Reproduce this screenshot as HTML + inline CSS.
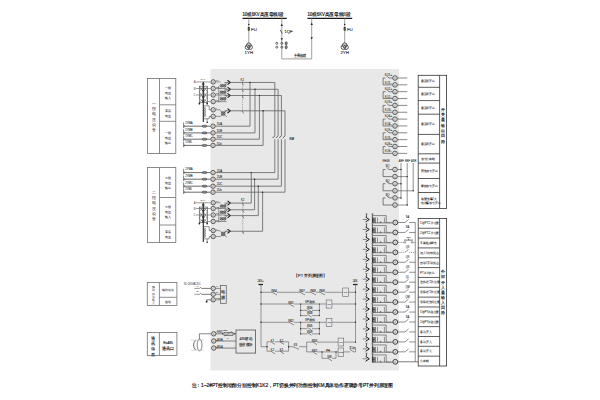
<!DOCTYPE html>
<html><head><meta charset="utf-8"><style>
html,body{margin:0;padding:0;background:#fff;width:600px;height:400px;overflow:hidden}
svg{display:block}
text{font-family:"Liberation Sans",sans-serif}
</style></head><body>
<svg width="600" height="400" viewBox="0 0 600 400">
<rect x="210.50" y="69.00" width="188.50" height="301.50" stroke="#333" stroke-width="0" fill="#e8e8e8"/>
<line x1="242.50" y1="18.40" x2="286.80" y2="18.40" stroke="#1a1a1a" stroke-width="1.4" />
<text x="242.50" y="16.30" font-size="4.6" fill="#1a1a1a" stroke="#1a1a1a" stroke-width="0.18" text-anchor="start" textLength="41.0" lengthAdjust="spacingAndGlyphs">10或6KV高压母线I段</text>
<line x1="307.40" y1="18.40" x2="352.20" y2="18.40" stroke="#1a1a1a" stroke-width="1.4" />
<text x="307.40" y="16.30" font-size="4.6" fill="#1a1a1a" stroke="#1a1a1a" stroke-width="0.18" text-anchor="start" textLength="43.0" lengthAdjust="spacingAndGlyphs">10或6KV高压母线II段</text>
<line x1="248.80" y1="18.40" x2="248.80" y2="43.50" stroke="#888" stroke-width="0.8" />
<circle cx="248.80" cy="24.60" r="0.75" fill="#222"/>
<rect x="248.05" y="27.30" width="1.50" height="3.40" stroke="#222" stroke-width="0.5" fill="#666"/>
<text x="251.00" y="31.00" font-size="4.4" fill="#1a1a1a" stroke="#1a1a1a" stroke-width="0.08" text-anchor="start" >FU</text>
<circle cx="247.50" cy="47.20" r="2.30" stroke="#333" stroke-width="0.8" fill="none"/>
<circle cx="250.10" cy="47.20" r="2.30" stroke="#333" stroke-width="0.8" fill="none"/>
<circle cx="248.80" cy="45.20" r="2.30" stroke="#333" stroke-width="0.8" fill="none"/>
<text x="248.80" y="53.80" font-size="4.4" fill="#1a1a1a" stroke="#1a1a1a" stroke-width="0.1" text-anchor="middle" >1YH</text>
<line x1="344.70" y1="18.40" x2="344.70" y2="43.50" stroke="#888" stroke-width="0.8" />
<circle cx="344.70" cy="24.60" r="0.75" fill="#222"/>
<rect x="343.95" y="27.30" width="1.50" height="3.40" stroke="#222" stroke-width="0.5" fill="#666"/>
<text x="346.90" y="31.00" font-size="4.4" fill="#1a1a1a" stroke="#1a1a1a" stroke-width="0.08" text-anchor="start" >FU</text>
<circle cx="343.40" cy="47.20" r="2.30" stroke="#333" stroke-width="0.8" fill="none"/>
<circle cx="346.00" cy="47.20" r="2.30" stroke="#333" stroke-width="0.8" fill="none"/>
<circle cx="344.70" cy="45.20" r="2.30" stroke="#333" stroke-width="0.8" fill="none"/>
<text x="344.70" y="53.80" font-size="4.4" fill="#1a1a1a" stroke="#1a1a1a" stroke-width="0.1" text-anchor="middle" >2YH</text>
<line x1="281.80" y1="18.40" x2="281.80" y2="58.90" stroke="#888" stroke-width="0.8" />
<polygon points="280.7,26 282.90000000000003,26 281.8,23.6" fill="#222"/>
<line x1="280.20" y1="29.80" x2="282.30" y2="33.60" stroke="#222" stroke-width="0.7" />
<polygon points="280.7,38.2 282.90000000000003,38.2 281.8,40.6" fill="#222"/>
<text x="284.20" y="33.30" font-size="4.4" fill="#1a1a1a" stroke="#1a1a1a" stroke-width="0.1" text-anchor="start" >1QF</text>
<circle cx="276.80" cy="43.30" r="1.00" stroke="#333" stroke-width="0.7" fill="none"/>
<circle cx="276.80" cy="47.20" r="1.00" stroke="#333" stroke-width="0.7" fill="none"/>
<circle cx="281.80" cy="43.30" r="1.00" stroke="#333" stroke-width="0.7" fill="none"/>
<circle cx="281.80" cy="47.20" r="1.00" stroke="#333" stroke-width="0.7" fill="none"/>
<ellipse cx="286.2" cy="43.3" rx="1" ry="1.6" stroke="#333" stroke-width="0.7" fill="#999"/>
<ellipse cx="286.2" cy="47.2" rx="1" ry="1.6" stroke="#333" stroke-width="0.7" fill="#999"/>
<line x1="281.80" y1="58.90" x2="311.70" y2="58.90" stroke="#888" stroke-width="0.8" />
<line x1="311.70" y1="18.40" x2="311.70" y2="58.90" stroke="#888" stroke-width="0.8" />
<polygon points="310.6,25 312.8,25 311.7,22.6" fill="#222"/>
<polygon points="310.6,37.2 312.8,37.2 311.7,39.6" fill="#222"/>
<text x="293.50" y="57.40" font-size="3.8" fill="#1a1a1a" stroke="#1a1a1a" stroke-width="0.12" text-anchor="start" textLength="12.5" lengthAdjust="spacingAndGlyphs">主母线联</text>
<rect x="147.50" y="78.50" width="28.30" height="75.00" stroke="#707070" stroke-width="0.8" fill="none"/>
<line x1="159.50" y1="78.50" x2="159.50" y2="153.50" stroke="#707070" stroke-width="0.8" />
<line x1="159.50" y1="104.80" x2="175.80" y2="104.80" stroke="#707070" stroke-width="0.8" />
<line x1="159.50" y1="121.30" x2="175.80" y2="121.30" stroke="#707070" stroke-width="0.8" />
<text x="153.50" y="104.80" font-size="3.6" fill="#222"  text-anchor="middle" >一</text>
<text x="153.50" y="110.10" font-size="3.6" fill="#222"  text-anchor="middle" >段</text>
<text x="153.50" y="115.40" font-size="3.6" fill="#222"  text-anchor="middle" >电</text>
<text x="153.50" y="120.70" font-size="3.6" fill="#222"  text-anchor="middle" >压</text>
<text x="153.50" y="126.00" font-size="3.6" fill="#222"  text-anchor="middle" >设</text>
<text x="153.50" y="131.30" font-size="3.6" fill="#222"  text-anchor="middle" >备</text>
<text x="167.70" y="88.85" font-size="3.2" fill="#1a1a1a" stroke="#1a1a1a" stroke-width="0.04" text-anchor="middle" >一段</text>
<text x="167.70" y="93.70" font-size="3.2" fill="#1a1a1a" stroke="#1a1a1a" stroke-width="0.04" text-anchor="middle" >电压</text>
<text x="167.70" y="98.55" font-size="3.2" fill="#1a1a1a" stroke="#1a1a1a" stroke-width="0.04" text-anchor="middle" >输入</text>
<text x="167.70" y="111.78" font-size="3.2" fill="#1a1a1a" stroke="#1a1a1a" stroke-width="0.04" text-anchor="middle" >零序</text>
<text x="167.70" y="116.62" font-size="3.2" fill="#1a1a1a" stroke="#1a1a1a" stroke-width="0.04" text-anchor="middle" >电压</text>
<text x="167.70" y="133.85" font-size="3.2" fill="#1a1a1a" stroke="#1a1a1a" stroke-width="0.04" text-anchor="middle" >一段</text>
<text x="167.70" y="138.70" font-size="3.2" fill="#1a1a1a" stroke="#1a1a1a" stroke-width="0.04" text-anchor="middle" >电压</text>
<text x="167.70" y="143.55" font-size="3.2" fill="#1a1a1a" stroke="#1a1a1a" stroke-width="0.04" text-anchor="middle" >输出</text>
<rect x="147.50" y="167.50" width="28.30" height="75.00" stroke="#707070" stroke-width="0.8" fill="none"/>
<line x1="159.50" y1="167.50" x2="159.50" y2="242.50" stroke="#707070" stroke-width="0.8" />
<line x1="159.50" y1="197.50" x2="175.80" y2="197.50" stroke="#707070" stroke-width="0.8" />
<line x1="159.50" y1="225.00" x2="175.80" y2="225.00" stroke="#707070" stroke-width="0.8" />
<text x="153.50" y="193.80" font-size="3.6" fill="#222"  text-anchor="middle" >二</text>
<text x="153.50" y="199.10" font-size="3.6" fill="#222"  text-anchor="middle" >段</text>
<text x="153.50" y="204.40" font-size="3.6" fill="#222"  text-anchor="middle" >电</text>
<text x="153.50" y="209.70" font-size="3.6" fill="#222"  text-anchor="middle" >压</text>
<text x="153.50" y="215.00" font-size="3.6" fill="#222"  text-anchor="middle" >设</text>
<text x="153.50" y="220.30" font-size="3.6" fill="#222"  text-anchor="middle" >备</text>
<text x="167.70" y="178.85" font-size="3.2" fill="#1a1a1a" stroke="#1a1a1a" stroke-width="0.04" text-anchor="middle" >二段</text>
<text x="167.70" y="183.70" font-size="3.2" fill="#1a1a1a" stroke="#1a1a1a" stroke-width="0.04" text-anchor="middle" >电压</text>
<text x="167.70" y="188.55" font-size="3.2" fill="#1a1a1a" stroke="#1a1a1a" stroke-width="0.04" text-anchor="middle" >输出</text>
<text x="167.70" y="207.85" font-size="3.2" fill="#1a1a1a" stroke="#1a1a1a" stroke-width="0.04" text-anchor="middle" >二段</text>
<text x="167.70" y="212.70" font-size="3.2" fill="#1a1a1a" stroke="#1a1a1a" stroke-width="0.04" text-anchor="middle" >电压</text>
<text x="167.70" y="217.55" font-size="3.2" fill="#1a1a1a" stroke="#1a1a1a" stroke-width="0.04" text-anchor="middle" >输入</text>
<text x="167.70" y="232.77" font-size="3.2" fill="#1a1a1a" stroke="#1a1a1a" stroke-width="0.04" text-anchor="middle" >零序</text>
<text x="167.70" y="237.62" font-size="3.2" fill="#1a1a1a" stroke="#1a1a1a" stroke-width="0.04" text-anchor="middle" >电压</text>
<rect x="147.30" y="282.50" width="29.60" height="22.90" stroke="#707070" stroke-width="0.8" fill="none"/>
<line x1="159.40" y1="282.50" x2="159.40" y2="305.40" stroke="#707070" stroke-width="0.8" />
<line x1="159.40" y1="297.30" x2="176.90" y2="297.30" stroke="#707070" stroke-width="0.8" />
<text x="153.30" y="288.30" font-size="2.8" fill="#444"  text-anchor="middle" >辅</text>
<text x="153.30" y="291.40" font-size="2.8" fill="#444"  text-anchor="middle" >助</text>
<text x="153.30" y="294.50" font-size="2.8" fill="#444"  text-anchor="middle" >电</text>
<text x="153.30" y="297.60" font-size="2.8" fill="#444"  text-anchor="middle" >源</text>
<text x="153.30" y="300.70" font-size="2.8" fill="#444"  text-anchor="middle" >输</text>
<text x="153.30" y="303.80" font-size="2.8" fill="#444"  text-anchor="middle" >入</text>
<text x="168.10" y="291.40" font-size="3.2" fill="#333" stroke="#333" stroke-width="0.02" text-anchor="middle" >辅助电源</text>
<text x="168.10" y="302.50" font-size="3.2" fill="#333" stroke="#333" stroke-width="0.02" text-anchor="middle" >接地</text>
<rect x="147.30" y="332.50" width="29.60" height="22.90" stroke="#707070" stroke-width="0.8" fill="none"/>
<line x1="159.40" y1="332.50" x2="159.40" y2="355.40" stroke="#707070" stroke-width="0.8" />
<text x="153.30" y="339.80" font-size="4.2" fill="#1a1a1a" stroke="#1a1a1a" stroke-width="0.1" text-anchor="middle" >通</text>
<text x="153.30" y="345.10" font-size="4.2" fill="#1a1a1a" stroke="#1a1a1a" stroke-width="0.1" text-anchor="middle" >讯</text>
<text x="153.30" y="350.40" font-size="4.2" fill="#1a1a1a" stroke="#1a1a1a" stroke-width="0.1" text-anchor="middle" >信</text>
<text x="153.30" y="355.70" font-size="4.2" fill="#1a1a1a" stroke="#1a1a1a" stroke-width="0.1" text-anchor="middle" >息</text>
<text x="168.10" y="343.80" font-size="3.2" fill="#1a1a1a" stroke="#1a1a1a" stroke-width="0.12" text-anchor="middle" >RsA85</text>
<text x="168.10" y="349.50" font-size="4.0" fill="#1a1a1a" stroke="#1a1a1a" stroke-width="0.12" text-anchor="middle" >通讯口</text>
<rect x="418.20" y="75.30" width="28.40" height="133.20" stroke="#333" stroke-width="0.8" fill="none"/>
<line x1="439.60" y1="75.30" x2="439.60" y2="208.50" stroke="#333" stroke-width="0.8" />
<line x1="418.20" y1="87.30" x2="439.60" y2="87.30" stroke="#333" stroke-width="0.8" />
<line x1="418.20" y1="100.60" x2="439.60" y2="100.60" stroke="#333" stroke-width="0.8" />
<line x1="418.20" y1="114.20" x2="439.60" y2="114.20" stroke="#333" stroke-width="0.8" />
<line x1="418.20" y1="134.40" x2="439.60" y2="134.40" stroke="#333" stroke-width="0.8" />
<line x1="418.20" y1="153.80" x2="439.60" y2="153.80" stroke="#333" stroke-width="0.8" />
<line x1="418.20" y1="163.10" x2="439.60" y2="163.10" stroke="#333" stroke-width="0.8" />
<line x1="418.20" y1="178.50" x2="439.60" y2="178.50" stroke="#333" stroke-width="0.8" />
<line x1="418.20" y1="192.50" x2="439.60" y2="192.50" stroke="#333" stroke-width="0.8" />
<text x="420.80" y="82.40" font-size="3.4" fill="#1a1a1a" stroke="#1a1a1a" stroke-width="0.04" text-anchor="start" textLength="14.25" lengthAdjust="spacingAndGlyphs">重瓦斯开出</text>
<text x="420.80" y="95.05" font-size="3.4" fill="#1a1a1a" stroke="#1a1a1a" stroke-width="0.04" text-anchor="start" textLength="14.25" lengthAdjust="spacingAndGlyphs">重瓦斯开出</text>
<text x="420.80" y="108.50" font-size="3.4" fill="#1a1a1a" stroke="#1a1a1a" stroke-width="0.04" text-anchor="start" textLength="14.25" lengthAdjust="spacingAndGlyphs">重瓦斯开出</text>
<text x="420.80" y="125.40" font-size="3.4" fill="#1a1a1a" stroke="#1a1a1a" stroke-width="0.04" text-anchor="start" textLength="14.25" lengthAdjust="spacingAndGlyphs">重瓦斯开出</text>
<text x="420.80" y="145.20" font-size="3.4" fill="#1a1a1a" stroke="#1a1a1a" stroke-width="0.04" text-anchor="start" textLength="14.25" lengthAdjust="spacingAndGlyphs">重瓦斯开出</text>
<text x="420.80" y="159.55" font-size="3.4" fill="#1a1a1a" stroke="#1a1a1a" stroke-width="0.04" text-anchor="start" textLength="14.25" lengthAdjust="spacingAndGlyphs">信号公共端</text>
<text x="420.80" y="171.90" font-size="3.4" fill="#1a1a1a" stroke="#1a1a1a" stroke-width="0.04" text-anchor="start" textLength="17.10" lengthAdjust="spacingAndGlyphs">预告信号开出</text>
<text x="420.80" y="186.60" font-size="3.4" fill="#1a1a1a" stroke="#1a1a1a" stroke-width="0.04" text-anchor="start" textLength="17.10" lengthAdjust="spacingAndGlyphs">事故信号开出</text>
<text x="420.80" y="199.50" font-size="3.4" fill="#1a1a1a" stroke="#1a1a1a" stroke-width="0.04" text-anchor="start" textLength="15.85" lengthAdjust="spacingAndGlyphs">装置告警/失</text>
<text x="420.80" y="203.70" font-size="3.4" fill="#1a1a1a" stroke="#1a1a1a" stroke-width="0.04" text-anchor="start" textLength="19.95" lengthAdjust="spacingAndGlyphs">电报警信号开出</text>
<text x="443.10" y="110.90" font-size="3.5" fill="#1a1a1a" stroke="#1a1a1a" stroke-width="0.1" text-anchor="middle" >开</text>
<text x="443.10" y="116.17" font-size="3.5" fill="#1a1a1a" stroke="#1a1a1a" stroke-width="0.1" text-anchor="middle" >关</text>
<text x="443.10" y="121.44" font-size="3.5" fill="#1a1a1a" stroke="#1a1a1a" stroke-width="0.1" text-anchor="middle" >量</text>
<text x="443.10" y="126.71" font-size="3.5" fill="#1a1a1a" stroke="#1a1a1a" stroke-width="0.1" text-anchor="middle" >输</text>
<text x="443.10" y="131.98" font-size="3.5" fill="#1a1a1a" stroke="#1a1a1a" stroke-width="0.1" text-anchor="middle" >出</text>
<text x="443.10" y="137.25" font-size="3.5" fill="#1a1a1a" stroke="#1a1a1a" stroke-width="0.1" text-anchor="middle" >回</text>
<text x="443.10" y="142.52" font-size="3.5" fill="#1a1a1a" stroke="#1a1a1a" stroke-width="0.1" text-anchor="middle" >路</text>
<rect x="418.20" y="218.40" width="28.40" height="147.60" stroke="#333" stroke-width="0.8" fill="none"/>
<line x1="439.60" y1="218.40" x2="439.60" y2="366.00" stroke="#333" stroke-width="0.8" />
<text x="420.00" y="224.42" font-size="3.4" fill="#1a1a1a" stroke="#1a1a1a" stroke-width="0.04" text-anchor="start" textLength="19.05" lengthAdjust="spacingAndGlyphs">1段PT工作位置</text>
<line x1="418.20" y1="228.24" x2="439.60" y2="228.24" stroke="#333" stroke-width="0.8" />
<text x="420.00" y="234.26" font-size="3.4" fill="#1a1a1a" stroke="#1a1a1a" stroke-width="0.04" text-anchor="start" textLength="19.05" lengthAdjust="spacingAndGlyphs">2段PT工作位置</text>
<line x1="418.20" y1="238.08" x2="439.60" y2="238.08" stroke="#333" stroke-width="0.8" />
<text x="420.00" y="244.10" font-size="3.4" fill="#1a1a1a" stroke="#1a1a1a" stroke-width="0.04" text-anchor="start" textLength="17.10" lengthAdjust="spacingAndGlyphs">车架检修整合</text>
<line x1="418.20" y1="247.92" x2="439.60" y2="247.92" stroke="#333" stroke-width="0.8" />
<text x="420.00" y="253.94" font-size="3.4" fill="#1a1a1a" stroke="#1a1a1a" stroke-width="0.04" text-anchor="start" textLength="18.70" lengthAdjust="spacingAndGlyphs">远方/就地状态</text>
<line x1="418.20" y1="257.76" x2="439.60" y2="257.76" stroke="#333" stroke-width="0.8" />
<text x="420.00" y="263.78" font-size="3.4" fill="#1a1a1a" stroke="#1a1a1a" stroke-width="0.04" text-anchor="start" textLength="18.70" lengthAdjust="spacingAndGlyphs">自动/手动状态</text>
<line x1="418.20" y1="267.60" x2="439.60" y2="267.60" stroke="#333" stroke-width="0.8" />
<text x="420.00" y="273.62" font-size="3.4" fill="#1a1a1a" stroke="#1a1a1a" stroke-width="0.04" text-anchor="start" textLength="14.60" lengthAdjust="spacingAndGlyphs">PT并列允许</text>
<line x1="418.20" y1="277.44" x2="439.60" y2="277.44" stroke="#333" stroke-width="0.8" />
<text x="420.00" y="283.46" font-size="3.4" fill="#1a1a1a" stroke="#1a1a1a" stroke-width="0.04" text-anchor="start" textLength="19.95" lengthAdjust="spacingAndGlyphs">进线柜工作位置</text>
<line x1="418.20" y1="287.28" x2="439.60" y2="287.28" stroke="#333" stroke-width="0.8" />
<text x="420.00" y="293.30" font-size="3.4" fill="#1a1a1a" stroke="#1a1a1a" stroke-width="0.04" text-anchor="start" textLength="19.95" lengthAdjust="spacingAndGlyphs">母联柜工作位置</text>
<line x1="418.20" y1="297.12" x2="439.60" y2="297.12" stroke="#333" stroke-width="0.8" />
<text x="420.00" y="303.14" font-size="3.4" fill="#1a1a1a" stroke="#1a1a1a" stroke-width="0.04" text-anchor="start" textLength="19.95" lengthAdjust="spacingAndGlyphs">母联柜合闸位置</text>
<line x1="418.20" y1="306.96" x2="439.60" y2="306.96" stroke="#333" stroke-width="0.8" />
<text x="420.00" y="312.98" font-size="3.4" fill="#1a1a1a" stroke="#1a1a1a" stroke-width="0.04" text-anchor="start" textLength="19.05" lengthAdjust="spacingAndGlyphs">1段PT试验位置</text>
<line x1="418.20" y1="316.80" x2="439.60" y2="316.80" stroke="#333" stroke-width="0.8" />
<text x="420.00" y="322.82" font-size="3.4" fill="#1a1a1a" stroke="#1a1a1a" stroke-width="0.04" text-anchor="start" textLength="19.05" lengthAdjust="spacingAndGlyphs">2段PT试验位置</text>
<line x1="418.20" y1="326.64" x2="439.60" y2="326.64" stroke="#333" stroke-width="0.8" />
<text x="420.00" y="332.66" font-size="3.4" fill="#1a1a1a" stroke="#1a1a1a" stroke-width="0.04" text-anchor="start" textLength="11.40" lengthAdjust="spacingAndGlyphs">备用开入</text>
<line x1="418.20" y1="336.48" x2="439.60" y2="336.48" stroke="#333" stroke-width="0.8" />
<text x="420.00" y="342.50" font-size="3.4" fill="#1a1a1a" stroke="#1a1a1a" stroke-width="0.04" text-anchor="start" textLength="11.40" lengthAdjust="spacingAndGlyphs">备用开入</text>
<line x1="418.20" y1="346.32" x2="439.60" y2="346.32" stroke="#333" stroke-width="0.8" />
<text x="420.00" y="352.34" font-size="3.4" fill="#1a1a1a" stroke="#1a1a1a" stroke-width="0.04" text-anchor="start" textLength="11.40" lengthAdjust="spacingAndGlyphs">备用开入</text>
<line x1="418.20" y1="356.16" x2="439.60" y2="356.16" stroke="#333" stroke-width="0.8" />
<text x="420.00" y="362.18" font-size="3.4" fill="#1a1a1a" stroke="#1a1a1a" stroke-width="0.04" text-anchor="start" textLength="8.55" lengthAdjust="spacingAndGlyphs">公共端</text>
<text x="443.10" y="273.30" font-size="3.5" fill="#1a1a1a" stroke="#1a1a1a" stroke-width="0.1" text-anchor="middle" >外</text>
<text x="443.10" y="278.40" font-size="3.5" fill="#1a1a1a" stroke="#1a1a1a" stroke-width="0.1" text-anchor="middle" >部</text>
<text x="443.10" y="283.50" font-size="3.5" fill="#1a1a1a" stroke="#1a1a1a" stroke-width="0.1" text-anchor="middle" >开</text>
<text x="443.10" y="288.60" font-size="3.5" fill="#1a1a1a" stroke="#1a1a1a" stroke-width="0.1" text-anchor="middle" >入</text>
<text x="443.10" y="293.70" font-size="3.5" fill="#1a1a1a" stroke="#1a1a1a" stroke-width="0.1" text-anchor="middle" >量</text>
<text x="443.10" y="298.80" font-size="3.5" fill="#1a1a1a" stroke="#1a1a1a" stroke-width="0.1" text-anchor="middle" >输</text>
<text x="443.10" y="303.90" font-size="3.5" fill="#1a1a1a" stroke="#1a1a1a" stroke-width="0.1" text-anchor="middle" >入</text>
<text x="443.10" y="309.00" font-size="3.5" fill="#1a1a1a" stroke="#1a1a1a" stroke-width="0.1" text-anchor="middle" >回</text>
<text x="443.10" y="314.10" font-size="3.5" fill="#1a1a1a" stroke="#1a1a1a" stroke-width="0.1" text-anchor="middle" >路</text>
<text x="194.60" y="82.90" font-size="2.8" fill="#444"  text-anchor="middle" >A</text>
<line x1="196.00" y1="81.90" x2="199.30" y2="81.90" stroke="#555" stroke-width="0.6" />
<text x="194.60" y="89.50" font-size="2.8" fill="#444"  text-anchor="middle" >B</text>
<line x1="196.00" y1="88.50" x2="199.30" y2="88.50" stroke="#555" stroke-width="0.6" />
<text x="194.60" y="96.00" font-size="2.8" fill="#444"  text-anchor="middle" >C</text>
<line x1="196.00" y1="95.00" x2="199.30" y2="95.00" stroke="#555" stroke-width="0.6" />
<line x1="199.30" y1="81.90" x2="210.40" y2="81.90" stroke="#555" stroke-width="0.6" />
<text x="202.80" y="79.70" font-size="2.4" fill="#1a1a1a" stroke="#1a1a1a" stroke-width="0.03" text-anchor="middle" >1YH</text>
<rect x="199.30" y="86.20" width="8.00" height="16.20" stroke="#444" stroke-width="0.6" fill="none"/>
<path d="M199.3,86.20 L203.3,91.70 M203.3,86.20 L199.3,91.70" stroke="#666" stroke-width="0.6" fill="none"/>
<path d="M203.3,86.20 L207.3,91.70 M207.3,86.20 L203.3,91.70" stroke="#666" stroke-width="0.6" fill="none"/>
<path d="M199.3,91.70 L203.3,98.20 M203.3,91.70 L199.3,98.20" stroke="#666" stroke-width="0.6" fill="none"/>
<path d="M203.3,91.70 L207.3,98.20 M207.3,91.70 L203.3,98.20" stroke="#666" stroke-width="0.6" fill="none"/>
<path d="M199.3,98.20 L203.3,102.40 M203.3,98.20 L199.3,102.40" stroke="#666" stroke-width="0.6" fill="none"/>
<path d="M203.3,98.20 L207.3,102.40 M207.3,98.20 L203.3,102.40" stroke="#666" stroke-width="0.6" fill="none"/>
<line x1="199.30" y1="88.50" x2="210.40" y2="88.50" stroke="#555" stroke-width="0.6" />
<line x1="199.30" y1="95.00" x2="210.40" y2="95.00" stroke="#555" stroke-width="0.6" />
<line x1="207.30" y1="101.60" x2="210.40" y2="101.60" stroke="#555" stroke-width="0.6" />
<line x1="203.30" y1="81.90" x2="203.30" y2="121.90" stroke="#222" stroke-width="1.1" />
<path d="M203.3,82.40 L204.7,84.10 L203.3,85.80 L201.9,84.10 Z" fill="#333"/>
<path d="M203.3,88.80 L204.7,90.50 L203.3,92.20 L201.9,90.50 Z" fill="#333"/>
<path d="M203.3,95.30 L204.7,97.00 L203.3,98.70 L201.9,97.00 Z" fill="#333"/>
<path d="M203.3,99.40 L204.7,101.10 L203.3,102.80 L201.9,101.10 Z" fill="#333"/>
<line x1="199.40" y1="102.40" x2="199.40" y2="103.40" stroke="#333" stroke-width="0.6" />
<circle cx="199.40" cy="103.70" r="0.85" fill="#222"/>
<line x1="207.20" y1="102.40" x2="207.20" y2="103.40" stroke="#333" stroke-width="0.6" />
<circle cx="207.20" cy="103.70" r="0.85" fill="#222"/>
<polyline points="203.30,105.80 209.20,105.80 209.20,109.80 211.00,109.80" stroke="#444" stroke-width="0.6" fill="none"/>
<path d="M204.30,107.20 q2.6,0.8 0,1.6 q2.6,0.8 0,1.6" stroke="#444" stroke-width="0.65" fill="none"/>
<path d="M204.30,110.40 q2.6,0.8 0,1.6 q2.6,0.8 0,1.6" stroke="#444" stroke-width="0.65" fill="none"/>
<path d="M204.30,113.60 q2.6,0.8 0,1.6 q2.6,0.8 0,1.6" stroke="#444" stroke-width="0.65" fill="none"/>
<polyline points="203.30,118.80 209.20,118.80 209.20,116.40 211.00,116.40" stroke="#444" stroke-width="0.6" fill="none"/>
<circle cx="207.20" cy="122.20" r="0.80" fill="#222"/>
<line x1="207.20" y1="118.80" x2="207.20" y2="122.20" stroke="#444" stroke-width="0.5" />
<circle cx="213.20" cy="81.90" r="2.20" stroke="#383838" stroke-width="0.8" fill="#e4e4e4"/>
<path d="M214.00,80.70 L212.50,82.50 L214.00,82.80" stroke="#777" stroke-width="0.45" fill="none"/>
<circle cx="213.20" cy="88.50" r="2.20" stroke="#383838" stroke-width="0.8" fill="#e4e4e4"/>
<path d="M214.00,87.30 L212.50,89.10 L214.00,89.40" stroke="#777" stroke-width="0.45" fill="none"/>
<circle cx="213.20" cy="95.00" r="2.20" stroke="#383838" stroke-width="0.8" fill="#e4e4e4"/>
<path d="M214.00,93.80 L212.50,95.60 L214.00,95.90" stroke="#777" stroke-width="0.45" fill="none"/>
<circle cx="213.20" cy="101.60" r="2.20" stroke="#383838" stroke-width="0.8" fill="#e4e4e4"/>
<path d="M214.00,100.40 L212.50,102.20 L214.00,102.50" stroke="#777" stroke-width="0.45" fill="none"/>
<circle cx="213.20" cy="109.80" r="2.20" stroke="#383838" stroke-width="0.8" fill="#e4e4e4"/>
<path d="M214.00,108.60 L212.50,110.40 L214.00,110.70" stroke="#777" stroke-width="0.45" fill="none"/>
<circle cx="213.20" cy="116.40" r="2.20" stroke="#383838" stroke-width="0.8" fill="#e4e4e4"/>
<path d="M214.00,115.20 L212.50,117.00 L214.00,117.30" stroke="#777" stroke-width="0.45" fill="none"/>
<line x1="218.80" y1="86.20" x2="218.80" y2="102.40" stroke="#555" stroke-width="0.6" />
<line x1="215.60" y1="81.90" x2="220.50" y2="81.90" stroke="#555" stroke-width="0.6" />
<text x="216.00" y="81.00" font-size="2.0" fill="#1a1a1a" stroke="#1a1a1a" stroke-width="0.03" text-anchor="start" >UA</text>
<line x1="215.60" y1="88.50" x2="220.50" y2="88.50" stroke="#555" stroke-width="0.6" />
<text x="216.00" y="87.60" font-size="2.0" fill="#1a1a1a" stroke="#1a1a1a" stroke-width="0.03" text-anchor="start" >UB</text>
<line x1="215.60" y1="95.00" x2="220.50" y2="95.00" stroke="#555" stroke-width="0.6" />
<text x="216.00" y="94.10" font-size="2.0" fill="#1a1a1a" stroke="#1a1a1a" stroke-width="0.03" text-anchor="start" >UC</text>
<line x1="215.60" y1="101.60" x2="220.50" y2="101.60" stroke="#555" stroke-width="0.6" />
<text x="216.00" y="100.70" font-size="2.0" fill="#1a1a1a" stroke="#1a1a1a" stroke-width="0.03" text-anchor="start" >Un</text>
<circle cx="221.60" cy="85.70" r="1.50" stroke="#444" stroke-width="0.55" fill="#aaa"/>
<line x1="220.50" y1="84.60" x2="222.70" y2="86.80" stroke="#333" stroke-width="0.5" />
<line x1="220.50" y1="86.80" x2="222.70" y2="84.60" stroke="#333" stroke-width="0.5" />
<circle cx="224.60" cy="85.70" r="1.50" stroke="#444" stroke-width="0.55" fill="#aaa"/>
<line x1="223.50" y1="84.60" x2="225.70" y2="86.80" stroke="#333" stroke-width="0.5" />
<line x1="223.50" y1="86.80" x2="225.70" y2="84.60" stroke="#333" stroke-width="0.5" />
<line x1="220.00" y1="88.50" x2="226.50" y2="88.50" stroke="#555" stroke-width="0.6" />
<line x1="225.30" y1="84.70" x2="227.00" y2="82.45" stroke="#444" stroke-width="0.6" />
<circle cx="221.60" cy="92.25" r="1.50" stroke="#444" stroke-width="0.55" fill="#aaa"/>
<line x1="220.50" y1="91.15" x2="222.70" y2="93.35" stroke="#333" stroke-width="0.5" />
<line x1="220.50" y1="93.35" x2="222.70" y2="91.15" stroke="#333" stroke-width="0.5" />
<circle cx="224.60" cy="92.25" r="1.50" stroke="#444" stroke-width="0.55" fill="#aaa"/>
<line x1="223.50" y1="91.15" x2="225.70" y2="93.35" stroke="#333" stroke-width="0.5" />
<line x1="223.50" y1="93.35" x2="225.70" y2="91.15" stroke="#333" stroke-width="0.5" />
<line x1="220.00" y1="95.00" x2="226.50" y2="95.00" stroke="#555" stroke-width="0.6" />
<line x1="225.30" y1="91.25" x2="227.00" y2="89.30" stroke="#444" stroke-width="0.6" />
<circle cx="221.60" cy="98.80" r="1.50" stroke="#444" stroke-width="0.55" fill="#aaa"/>
<line x1="220.50" y1="97.70" x2="222.70" y2="99.90" stroke="#333" stroke-width="0.5" />
<line x1="220.50" y1="99.90" x2="222.70" y2="97.70" stroke="#333" stroke-width="0.5" />
<circle cx="224.60" cy="98.80" r="1.50" stroke="#444" stroke-width="0.55" fill="#aaa"/>
<line x1="223.50" y1="97.70" x2="225.70" y2="99.90" stroke="#333" stroke-width="0.5" />
<line x1="223.50" y1="99.90" x2="225.70" y2="97.70" stroke="#333" stroke-width="0.5" />
<line x1="220.00" y1="101.60" x2="226.50" y2="101.60" stroke="#555" stroke-width="0.6" />
<line x1="225.30" y1="97.80" x2="227.00" y2="95.50" stroke="#444" stroke-width="0.6" />
<circle cx="223.20" cy="113.50" r="1.90" stroke="#444" stroke-width="0.6" fill="#999"/>
<line x1="221.40" y1="111.70" x2="225.00" y2="115.30" stroke="#333" stroke-width="0.5" />
<line x1="221.40" y1="115.30" x2="225.00" y2="111.70" stroke="#333" stroke-width="0.5" />
<line x1="215.60" y1="109.80" x2="220.00" y2="109.80" stroke="#555" stroke-width="0.6" />
<line x1="220.00" y1="109.80" x2="222.00" y2="112.30" stroke="#555" stroke-width="0.6" />
<line x1="215.60" y1="116.40" x2="220.50" y2="116.40" stroke="#555" stroke-width="0.6" />
<line x1="220.50" y1="116.40" x2="222.00" y2="114.70" stroke="#555" stroke-width="0.6" />
<line x1="224.40" y1="112.20" x2="226.50" y2="110.80" stroke="#444" stroke-width="0.6" />
<line x1="224.40" y1="114.80" x2="226.80" y2="116.80" stroke="#555" stroke-width="0.6" />
<text x="216.00" y="108.90" font-size="2.0" fill="#1a1a1a" stroke="#1a1a1a" stroke-width="0.03" text-anchor="start" >L</text>
<polyline points="227.50,80.25 230.30,82.45 227.50,84.65" stroke="#1a1a1a" stroke-width="1.05" fill="none"/>
<line x1="224.50" y1="82.45" x2="230.00" y2="82.45" stroke="#444" stroke-width="0.6" />
<polyline points="227.50,87.10 230.30,89.30 227.50,91.50" stroke="#1a1a1a" stroke-width="1.05" fill="none"/>
<line x1="224.50" y1="89.30" x2="230.00" y2="89.30" stroke="#444" stroke-width="0.6" />
<polyline points="227.50,93.30 230.30,95.50 227.50,97.70" stroke="#1a1a1a" stroke-width="1.05" fill="none"/>
<line x1="224.50" y1="95.50" x2="230.00" y2="95.50" stroke="#444" stroke-width="0.6" />
<polyline points="227.50,108.60 230.30,110.80 227.50,113.00" stroke="#1a1a1a" stroke-width="1.05" fill="none"/>
<line x1="224.50" y1="110.80" x2="230.00" y2="110.80" stroke="#444" stroke-width="0.6" />
<line x1="183.60" y1="122.40" x2="183.60" y2="128.00" stroke="#555" stroke-width="0.7" />
<path d="M183.6,124.60 L185.2,126.20 L183.6,127.80" stroke="#666" stroke-width="0.5" fill="none"/>
<line x1="183.60" y1="126.20" x2="210.50" y2="126.20" stroke="#444" stroke-width="0.8" />
<rect x="202.3" y="125.20" width="4.4" height="2.0" rx="0.9" fill="#888" stroke="#333" stroke-width="0.5"/>
<text x="185.20" y="123.90" font-size="2.7" fill="#1a1a1a" stroke="#1a1a1a" stroke-width="0.05" text-anchor="start" >1YMA</text>
<circle cx="213.00" cy="126.20" r="2.20" stroke="#383838" stroke-width="0.8" fill="#e4e4e4"/>
<path d="M213.80,125.00 L212.30,126.80 L213.80,127.10" stroke="#777" stroke-width="0.45" fill="none"/>
<text x="216.80" y="125.30" font-size="2.8" fill="#1a1a1a" stroke="#1a1a1a" stroke-width="0.05" text-anchor="start" >1UA</text>
<line x1="183.60" y1="129.10" x2="183.60" y2="134.70" stroke="#555" stroke-width="0.7" />
<path d="M183.6,131.30 L185.2,132.90 L183.6,134.50" stroke="#666" stroke-width="0.5" fill="none"/>
<line x1="183.60" y1="132.90" x2="210.50" y2="132.90" stroke="#444" stroke-width="0.8" />
<rect x="202.3" y="131.90" width="4.4" height="2.0" rx="0.9" fill="#888" stroke="#333" stroke-width="0.5"/>
<text x="185.20" y="130.60" font-size="2.7" fill="#1a1a1a" stroke="#1a1a1a" stroke-width="0.05" text-anchor="start" >1YMB</text>
<circle cx="213.00" cy="132.90" r="2.20" stroke="#383838" stroke-width="0.8" fill="#e4e4e4"/>
<path d="M213.80,131.70 L212.30,133.50 L213.80,133.80" stroke="#777" stroke-width="0.45" fill="none"/>
<text x="216.80" y="132.00" font-size="2.8" fill="#1a1a1a" stroke="#1a1a1a" stroke-width="0.05" text-anchor="start" >1UB</text>
<line x1="183.60" y1="135.40" x2="183.60" y2="141.00" stroke="#555" stroke-width="0.7" />
<path d="M183.6,137.60 L185.2,139.20 L183.6,140.80" stroke="#666" stroke-width="0.5" fill="none"/>
<line x1="183.60" y1="139.20" x2="210.50" y2="139.20" stroke="#444" stroke-width="0.8" />
<rect x="202.3" y="138.20" width="4.4" height="2.0" rx="0.9" fill="#888" stroke="#333" stroke-width="0.5"/>
<text x="185.20" y="136.90" font-size="2.7" fill="#1a1a1a" stroke="#1a1a1a" stroke-width="0.05" text-anchor="start" >1YMC</text>
<circle cx="213.00" cy="139.20" r="2.20" stroke="#383838" stroke-width="0.8" fill="#e4e4e4"/>
<path d="M213.80,138.00 L212.30,139.80 L213.80,140.10" stroke="#777" stroke-width="0.45" fill="none"/>
<text x="216.80" y="138.30" font-size="2.8" fill="#1a1a1a" stroke="#1a1a1a" stroke-width="0.05" text-anchor="start" >1UC</text>
<line x1="183.60" y1="141.60" x2="183.60" y2="147.20" stroke="#555" stroke-width="0.7" />
<path d="M183.6,143.80 L185.2,145.40 L183.6,147.00" stroke="#666" stroke-width="0.5" fill="none"/>
<line x1="183.60" y1="145.40" x2="210.50" y2="145.40" stroke="#444" stroke-width="0.8" />
<rect x="202.3" y="144.40" width="4.4" height="2.0" rx="0.9" fill="#888" stroke="#333" stroke-width="0.5"/>
<text x="185.20" y="143.10" font-size="2.7" fill="#1a1a1a" stroke="#1a1a1a" stroke-width="0.05" text-anchor="start" >1YML</text>
<circle cx="213.00" cy="145.40" r="2.20" stroke="#383838" stroke-width="0.8" fill="#e4e4e4"/>
<path d="M213.80,144.20 L212.30,146.00 L213.80,146.30" stroke="#777" stroke-width="0.45" fill="none"/>
<text x="216.80" y="144.50" font-size="2.8" fill="#1a1a1a" stroke="#1a1a1a" stroke-width="0.05" text-anchor="start" >1Un</text>
<line x1="230.20" y1="82.45" x2="274.80" y2="82.45" stroke="#606060" stroke-width="0.8" />
<line x1="274.80" y1="82.45" x2="274.80" y2="135.90" stroke="#606060" stroke-width="0.8" />
<line x1="274.80" y1="139.20" x2="274.80" y2="172.60" stroke="#606060" stroke-width="0.8" />
<line x1="250.00" y1="82.45" x2="250.00" y2="126.20" stroke="#606060" stroke-width="0.8" />
<line x1="215.30" y1="126.20" x2="250.00" y2="126.20" stroke="#606060" stroke-width="0.8" />
<circle cx="250.00" cy="82.45" r="0.70" fill="#222"/>
<line x1="215.30" y1="172.60" x2="274.80" y2="172.60" stroke="#606060" stroke-width="0.8" />
<line x1="274.80" y1="135.80" x2="272.50" y2="138.10" stroke="#333" stroke-width="0.8" />
<line x1="230.20" y1="89.30" x2="278.10" y2="89.30" stroke="#606060" stroke-width="0.8" />
<line x1="278.10" y1="89.30" x2="278.10" y2="135.90" stroke="#606060" stroke-width="0.8" />
<line x1="278.10" y1="139.20" x2="278.10" y2="179.20" stroke="#606060" stroke-width="0.8" />
<line x1="255.00" y1="89.30" x2="255.00" y2="132.90" stroke="#606060" stroke-width="0.8" />
<line x1="215.30" y1="132.90" x2="255.00" y2="132.90" stroke="#606060" stroke-width="0.8" />
<circle cx="255.00" cy="89.30" r="0.70" fill="#222"/>
<line x1="215.30" y1="179.20" x2="278.10" y2="179.20" stroke="#606060" stroke-width="0.8" />
<line x1="278.10" y1="135.80" x2="275.80" y2="138.10" stroke="#333" stroke-width="0.8" />
<line x1="230.20" y1="95.50" x2="281.40" y2="95.50" stroke="#606060" stroke-width="0.8" />
<line x1="281.40" y1="95.50" x2="281.40" y2="135.90" stroke="#606060" stroke-width="0.8" />
<line x1="281.40" y1="139.20" x2="281.40" y2="186.20" stroke="#606060" stroke-width="0.8" />
<line x1="259.40" y1="95.50" x2="259.40" y2="139.20" stroke="#606060" stroke-width="0.8" />
<line x1="215.30" y1="139.20" x2="259.40" y2="139.20" stroke="#606060" stroke-width="0.8" />
<circle cx="259.40" cy="95.50" r="0.70" fill="#222"/>
<line x1="215.30" y1="186.20" x2="281.40" y2="186.20" stroke="#606060" stroke-width="0.8" />
<line x1="281.40" y1="135.80" x2="279.10" y2="138.10" stroke="#333" stroke-width="0.8" />
<line x1="230.20" y1="110.80" x2="285.00" y2="110.80" stroke="#606060" stroke-width="0.8" />
<line x1="285.00" y1="110.80" x2="285.00" y2="135.90" stroke="#606060" stroke-width="0.8" />
<line x1="285.00" y1="139.20" x2="285.00" y2="192.20" stroke="#606060" stroke-width="0.8" />
<line x1="263.10" y1="110.80" x2="263.10" y2="145.40" stroke="#606060" stroke-width="0.8" />
<line x1="215.30" y1="145.40" x2="263.10" y2="145.40" stroke="#606060" stroke-width="0.8" />
<circle cx="263.10" cy="110.80" r="0.70" fill="#222"/>
<line x1="215.30" y1="192.20" x2="285.00" y2="192.20" stroke="#606060" stroke-width="0.8" />
<line x1="285.00" y1="135.80" x2="282.70" y2="138.10" stroke="#333" stroke-width="0.8" />
<text x="289.50" y="140.00" font-size="3.0" fill="#1a1a1a" stroke="#1a1a1a" stroke-width="0.12" text-anchor="start" >KM</text>
<line x1="242.50" y1="80.50" x2="242.50" y2="112.00" stroke="#444" stroke-width="0.5" stroke-dasharray="0.8,1"/>
<text x="242.30" y="80.60" font-size="2.8" fill="#1a1a1a" stroke="#1a1a1a" stroke-width="0.04" text-anchor="middle" >K1</text>
<line x1="242.20" y1="82.85" x2="243.60" y2="85.25" stroke="#444" stroke-width="0.6" />
<line x1="242.20" y1="89.70" x2="243.60" y2="92.10" stroke="#444" stroke-width="0.6" />
<line x1="242.20" y1="95.90" x2="243.60" y2="98.30" stroke="#444" stroke-width="0.6" />
<line x1="242.20" y1="111.20" x2="243.60" y2="113.60" stroke="#444" stroke-width="0.6" />
<line x1="183.60" y1="168.80" x2="183.60" y2="174.40" stroke="#555" stroke-width="0.7" />
<path d="M183.6,171.00 L185.2,172.60 L183.6,174.20" stroke="#666" stroke-width="0.5" fill="none"/>
<line x1="183.60" y1="172.60" x2="210.50" y2="172.60" stroke="#444" stroke-width="0.8" />
<rect x="202.3" y="171.60" width="4.4" height="2.0" rx="0.9" fill="#888" stroke="#333" stroke-width="0.5"/>
<text x="185.20" y="170.30" font-size="2.7" fill="#1a1a1a" stroke="#1a1a1a" stroke-width="0.05" text-anchor="start" >2YMA</text>
<circle cx="213.00" cy="172.60" r="2.20" stroke="#383838" stroke-width="0.8" fill="#e4e4e4"/>
<path d="M213.80,171.40 L212.30,173.20 L213.80,173.50" stroke="#777" stroke-width="0.45" fill="none"/>
<text x="216.80" y="171.70" font-size="2.8" fill="#1a1a1a" stroke="#1a1a1a" stroke-width="0.05" text-anchor="start" >2UA</text>
<line x1="183.60" y1="175.40" x2="183.60" y2="181.00" stroke="#555" stroke-width="0.7" />
<path d="M183.6,177.60 L185.2,179.20 L183.6,180.80" stroke="#666" stroke-width="0.5" fill="none"/>
<line x1="183.60" y1="179.20" x2="210.50" y2="179.20" stroke="#444" stroke-width="0.8" />
<rect x="202.3" y="178.20" width="4.4" height="2.0" rx="0.9" fill="#888" stroke="#333" stroke-width="0.5"/>
<text x="185.20" y="176.90" font-size="2.7" fill="#1a1a1a" stroke="#1a1a1a" stroke-width="0.05" text-anchor="start" >2YMB</text>
<circle cx="213.00" cy="179.20" r="2.20" stroke="#383838" stroke-width="0.8" fill="#e4e4e4"/>
<path d="M213.80,178.00 L212.30,179.80 L213.80,180.10" stroke="#777" stroke-width="0.45" fill="none"/>
<text x="216.80" y="178.30" font-size="2.8" fill="#1a1a1a" stroke="#1a1a1a" stroke-width="0.05" text-anchor="start" >2UB</text>
<line x1="183.60" y1="182.40" x2="183.60" y2="188.00" stroke="#555" stroke-width="0.7" />
<path d="M183.6,184.60 L185.2,186.20 L183.6,187.80" stroke="#666" stroke-width="0.5" fill="none"/>
<line x1="183.60" y1="186.20" x2="210.50" y2="186.20" stroke="#444" stroke-width="0.8" />
<rect x="202.3" y="185.20" width="4.4" height="2.0" rx="0.9" fill="#888" stroke="#333" stroke-width="0.5"/>
<text x="185.20" y="183.90" font-size="2.7" fill="#1a1a1a" stroke="#1a1a1a" stroke-width="0.05" text-anchor="start" >2YMC</text>
<circle cx="213.00" cy="186.20" r="2.20" stroke="#383838" stroke-width="0.8" fill="#e4e4e4"/>
<path d="M213.80,185.00 L212.30,186.80 L213.80,187.10" stroke="#777" stroke-width="0.45" fill="none"/>
<text x="216.80" y="185.30" font-size="2.8" fill="#1a1a1a" stroke="#1a1a1a" stroke-width="0.05" text-anchor="start" >2UC</text>
<line x1="183.60" y1="188.40" x2="183.60" y2="194.00" stroke="#555" stroke-width="0.7" />
<path d="M183.6,190.60 L185.2,192.20 L183.6,193.80" stroke="#666" stroke-width="0.5" fill="none"/>
<line x1="183.60" y1="192.20" x2="210.50" y2="192.20" stroke="#444" stroke-width="0.8" />
<rect x="202.3" y="191.20" width="4.4" height="2.0" rx="0.9" fill="#888" stroke="#333" stroke-width="0.5"/>
<text x="185.20" y="189.90" font-size="2.7" fill="#1a1a1a" stroke="#1a1a1a" stroke-width="0.05" text-anchor="start" >2YML</text>
<circle cx="213.00" cy="192.20" r="2.20" stroke="#383838" stroke-width="0.8" fill="#e4e4e4"/>
<path d="M213.80,191.00 L212.30,192.80 L213.80,193.10" stroke="#777" stroke-width="0.45" fill="none"/>
<text x="216.80" y="191.30" font-size="2.8" fill="#1a1a1a" stroke="#1a1a1a" stroke-width="0.05" text-anchor="start" >2Un</text>
<text x="194.60" y="203.75" font-size="2.8" fill="#444"  text-anchor="middle" >A</text>
<line x1="196.00" y1="202.75" x2="199.30" y2="202.75" stroke="#555" stroke-width="0.6" />
<text x="194.60" y="209.50" font-size="2.8" fill="#444"  text-anchor="middle" >B</text>
<line x1="196.00" y1="208.50" x2="199.30" y2="208.50" stroke="#555" stroke-width="0.6" />
<text x="194.60" y="216.00" font-size="2.8" fill="#444"  text-anchor="middle" >C</text>
<line x1="196.00" y1="215.00" x2="199.30" y2="215.00" stroke="#555" stroke-width="0.6" />
<line x1="199.30" y1="202.75" x2="210.40" y2="202.75" stroke="#555" stroke-width="0.6" />
<text x="202.80" y="200.55" font-size="2.4" fill="#1a1a1a" stroke="#1a1a1a" stroke-width="0.03" text-anchor="middle" >2YH</text>
<rect x="199.30" y="207.05" width="8.00" height="15.25" stroke="#444" stroke-width="0.6" fill="none"/>
<path d="M199.3,207.05 L203.3,211.70 M203.3,207.05 L199.3,211.70" stroke="#666" stroke-width="0.6" fill="none"/>
<path d="M203.3,207.05 L207.3,211.70 M207.3,207.05 L203.3,211.70" stroke="#666" stroke-width="0.6" fill="none"/>
<path d="M199.3,211.70 L203.3,218.20 M203.3,211.70 L199.3,218.20" stroke="#666" stroke-width="0.6" fill="none"/>
<path d="M203.3,211.70 L207.3,218.20 M207.3,211.70 L203.3,218.20" stroke="#666" stroke-width="0.6" fill="none"/>
<path d="M199.3,218.20 L203.3,222.30 M203.3,218.20 L199.3,222.30" stroke="#666" stroke-width="0.6" fill="none"/>
<path d="M203.3,218.20 L207.3,222.30 M207.3,218.20 L203.3,222.30" stroke="#666" stroke-width="0.6" fill="none"/>
<line x1="199.30" y1="208.50" x2="210.40" y2="208.50" stroke="#555" stroke-width="0.6" />
<line x1="199.30" y1="215.00" x2="210.40" y2="215.00" stroke="#555" stroke-width="0.6" />
<line x1="207.30" y1="221.50" x2="210.40" y2="221.50" stroke="#555" stroke-width="0.6" />
<line x1="203.30" y1="202.75" x2="203.30" y2="242.00" stroke="#222" stroke-width="1.1" />
<path d="M203.3,203.25 L204.7,204.95 L203.3,206.65 L201.9,204.95 Z" fill="#333"/>
<path d="M203.3,208.80 L204.7,210.50 L203.3,212.20 L201.9,210.50 Z" fill="#333"/>
<path d="M203.3,215.30 L204.7,217.00 L203.3,218.70 L201.9,217.00 Z" fill="#333"/>
<path d="M203.3,219.30 L204.7,221.00 L203.3,222.70 L201.9,221.00 Z" fill="#333"/>
<line x1="199.40" y1="222.30" x2="199.40" y2="223.30" stroke="#333" stroke-width="0.6" />
<circle cx="199.40" cy="223.60" r="0.85" fill="#222"/>
<line x1="207.20" y1="222.30" x2="207.20" y2="223.30" stroke="#333" stroke-width="0.6" />
<circle cx="207.20" cy="223.60" r="0.85" fill="#222"/>
<polyline points="203.30,226.60 209.20,226.60 209.20,230.60 211.00,230.60" stroke="#444" stroke-width="0.6" fill="none"/>
<path d="M204.30,228.00 q2.6,0.8 0,1.6 q2.6,0.8 0,1.6" stroke="#444" stroke-width="0.65" fill="none"/>
<path d="M204.30,231.20 q2.6,0.8 0,1.6 q2.6,0.8 0,1.6" stroke="#444" stroke-width="0.65" fill="none"/>
<path d="M204.30,234.40 q2.6,0.8 0,1.6 q2.6,0.8 0,1.6" stroke="#444" stroke-width="0.65" fill="none"/>
<polyline points="203.30,238.90 209.20,238.90 209.20,236.50 211.00,236.50" stroke="#444" stroke-width="0.6" fill="none"/>
<circle cx="207.20" cy="242.30" r="0.80" fill="#222"/>
<line x1="207.20" y1="238.90" x2="207.20" y2="242.30" stroke="#444" stroke-width="0.5" />
<circle cx="213.20" cy="202.75" r="2.20" stroke="#383838" stroke-width="0.8" fill="#e4e4e4"/>
<path d="M214.00,201.55 L212.50,203.35 L214.00,203.65" stroke="#777" stroke-width="0.45" fill="none"/>
<circle cx="213.20" cy="208.50" r="2.20" stroke="#383838" stroke-width="0.8" fill="#e4e4e4"/>
<path d="M214.00,207.30 L212.50,209.10 L214.00,209.40" stroke="#777" stroke-width="0.45" fill="none"/>
<circle cx="213.20" cy="215.00" r="2.20" stroke="#383838" stroke-width="0.8" fill="#e4e4e4"/>
<path d="M214.00,213.80 L212.50,215.60 L214.00,215.90" stroke="#777" stroke-width="0.45" fill="none"/>
<circle cx="213.20" cy="221.50" r="2.20" stroke="#383838" stroke-width="0.8" fill="#e4e4e4"/>
<path d="M214.00,220.30 L212.50,222.10 L214.00,222.40" stroke="#777" stroke-width="0.45" fill="none"/>
<circle cx="213.20" cy="230.60" r="2.20" stroke="#383838" stroke-width="0.8" fill="#e4e4e4"/>
<path d="M214.00,229.40 L212.50,231.20 L214.00,231.50" stroke="#777" stroke-width="0.45" fill="none"/>
<circle cx="213.20" cy="236.50" r="2.20" stroke="#383838" stroke-width="0.8" fill="#e4e4e4"/>
<path d="M214.00,235.30 L212.50,237.10 L214.00,237.40" stroke="#777" stroke-width="0.45" fill="none"/>
<line x1="218.80" y1="207.05" x2="218.80" y2="222.30" stroke="#555" stroke-width="0.6" />
<line x1="215.60" y1="202.75" x2="220.50" y2="202.75" stroke="#555" stroke-width="0.6" />
<text x="216.00" y="201.85" font-size="2.0" fill="#1a1a1a" stroke="#1a1a1a" stroke-width="0.03" text-anchor="start" >UA</text>
<line x1="215.60" y1="208.50" x2="220.50" y2="208.50" stroke="#555" stroke-width="0.6" />
<text x="216.00" y="207.60" font-size="2.0" fill="#1a1a1a" stroke="#1a1a1a" stroke-width="0.03" text-anchor="start" >UB</text>
<line x1="215.60" y1="215.00" x2="220.50" y2="215.00" stroke="#555" stroke-width="0.6" />
<text x="216.00" y="214.10" font-size="2.0" fill="#1a1a1a" stroke="#1a1a1a" stroke-width="0.03" text-anchor="start" >UC</text>
<line x1="215.60" y1="221.50" x2="220.50" y2="221.50" stroke="#555" stroke-width="0.6" />
<text x="216.00" y="220.60" font-size="2.0" fill="#1a1a1a" stroke="#1a1a1a" stroke-width="0.03" text-anchor="start" >Un</text>
<circle cx="221.60" cy="206.12" r="1.50" stroke="#444" stroke-width="0.55" fill="#aaa"/>
<line x1="220.50" y1="205.03" x2="222.70" y2="207.22" stroke="#333" stroke-width="0.5" />
<line x1="220.50" y1="207.22" x2="222.70" y2="205.03" stroke="#333" stroke-width="0.5" />
<circle cx="224.60" cy="206.12" r="1.50" stroke="#444" stroke-width="0.55" fill="#aaa"/>
<line x1="223.50" y1="205.03" x2="225.70" y2="207.22" stroke="#333" stroke-width="0.5" />
<line x1="223.50" y1="207.22" x2="225.70" y2="205.03" stroke="#333" stroke-width="0.5" />
<line x1="220.00" y1="208.50" x2="226.50" y2="208.50" stroke="#555" stroke-width="0.6" />
<line x1="225.30" y1="205.12" x2="227.00" y2="203.10" stroke="#444" stroke-width="0.6" />
<circle cx="221.60" cy="212.25" r="1.50" stroke="#444" stroke-width="0.55" fill="#aaa"/>
<line x1="220.50" y1="211.15" x2="222.70" y2="213.35" stroke="#333" stroke-width="0.5" />
<line x1="220.50" y1="213.35" x2="222.70" y2="211.15" stroke="#333" stroke-width="0.5" />
<circle cx="224.60" cy="212.25" r="1.50" stroke="#444" stroke-width="0.55" fill="#aaa"/>
<line x1="223.50" y1="211.15" x2="225.70" y2="213.35" stroke="#333" stroke-width="0.5" />
<line x1="223.50" y1="213.35" x2="225.70" y2="211.15" stroke="#333" stroke-width="0.5" />
<line x1="220.00" y1="215.00" x2="226.50" y2="215.00" stroke="#555" stroke-width="0.6" />
<line x1="225.30" y1="211.25" x2="227.00" y2="209.75" stroke="#444" stroke-width="0.6" />
<circle cx="221.60" cy="218.75" r="1.50" stroke="#444" stroke-width="0.55" fill="#aaa"/>
<line x1="220.50" y1="217.65" x2="222.70" y2="219.85" stroke="#333" stroke-width="0.5" />
<line x1="220.50" y1="219.85" x2="222.70" y2="217.65" stroke="#333" stroke-width="0.5" />
<circle cx="224.60" cy="218.75" r="1.50" stroke="#444" stroke-width="0.55" fill="#aaa"/>
<line x1="223.50" y1="217.65" x2="225.70" y2="219.85" stroke="#333" stroke-width="0.5" />
<line x1="223.50" y1="219.85" x2="225.70" y2="217.65" stroke="#333" stroke-width="0.5" />
<line x1="220.00" y1="221.50" x2="226.50" y2="221.50" stroke="#555" stroke-width="0.6" />
<line x1="225.30" y1="217.75" x2="227.00" y2="215.60" stroke="#444" stroke-width="0.6" />
<circle cx="223.20" cy="233.95" r="1.90" stroke="#444" stroke-width="0.6" fill="#999"/>
<line x1="221.40" y1="232.15" x2="225.00" y2="235.75" stroke="#333" stroke-width="0.5" />
<line x1="221.40" y1="235.75" x2="225.00" y2="232.15" stroke="#333" stroke-width="0.5" />
<line x1="215.60" y1="230.60" x2="220.00" y2="230.60" stroke="#555" stroke-width="0.6" />
<line x1="220.00" y1="230.60" x2="222.00" y2="232.75" stroke="#555" stroke-width="0.6" />
<line x1="215.60" y1="236.50" x2="220.50" y2="236.50" stroke="#555" stroke-width="0.6" />
<line x1="220.50" y1="236.50" x2="222.00" y2="235.15" stroke="#555" stroke-width="0.6" />
<line x1="224.40" y1="232.65" x2="226.50" y2="231.25" stroke="#444" stroke-width="0.6" />
<line x1="224.40" y1="235.25" x2="226.80" y2="237.25" stroke="#555" stroke-width="0.6" />
<text x="216.00" y="229.70" font-size="2.0" fill="#1a1a1a" stroke="#1a1a1a" stroke-width="0.03" text-anchor="start" >L</text>
<polyline points="227.50,200.90 230.30,203.10 227.50,205.30" stroke="#1a1a1a" stroke-width="1.05" fill="none"/>
<line x1="224.50" y1="203.10" x2="230.00" y2="203.10" stroke="#444" stroke-width="0.6" />
<polyline points="227.50,207.55 230.30,209.75 227.50,211.95" stroke="#1a1a1a" stroke-width="1.05" fill="none"/>
<line x1="224.50" y1="209.75" x2="230.00" y2="209.75" stroke="#444" stroke-width="0.6" />
<polyline points="227.50,213.40 230.30,215.60 227.50,217.80" stroke="#1a1a1a" stroke-width="1.05" fill="none"/>
<line x1="224.50" y1="215.60" x2="230.00" y2="215.60" stroke="#444" stroke-width="0.6" />
<polyline points="227.50,229.05 230.30,231.25 227.50,233.45" stroke="#1a1a1a" stroke-width="1.05" fill="none"/>
<line x1="224.50" y1="231.25" x2="230.00" y2="231.25" stroke="#444" stroke-width="0.6" />
<line x1="230.20" y1="203.10" x2="251.25" y2="203.10" stroke="#606060" stroke-width="0.8" />
<line x1="251.25" y1="172.60" x2="251.25" y2="203.10" stroke="#606060" stroke-width="0.8" />
<circle cx="251.25" cy="172.60" r="0.70" fill="#222"/>
<line x1="230.20" y1="209.75" x2="254.60" y2="209.75" stroke="#606060" stroke-width="0.8" />
<line x1="254.60" y1="179.20" x2="254.60" y2="209.75" stroke="#606060" stroke-width="0.8" />
<circle cx="254.60" cy="179.20" r="0.70" fill="#222"/>
<line x1="230.20" y1="215.60" x2="258.30" y2="215.60" stroke="#606060" stroke-width="0.8" />
<line x1="258.30" y1="186.20" x2="258.30" y2="215.60" stroke="#606060" stroke-width="0.8" />
<circle cx="258.30" cy="186.20" r="0.70" fill="#222"/>
<line x1="230.20" y1="231.25" x2="262.60" y2="231.25" stroke="#606060" stroke-width="0.8" />
<line x1="262.60" y1="192.20" x2="262.60" y2="231.25" stroke="#606060" stroke-width="0.8" />
<circle cx="262.60" cy="192.20" r="0.70" fill="#222"/>
<line x1="242.75" y1="201.50" x2="242.75" y2="233.00" stroke="#444" stroke-width="0.5" stroke-dasharray="0.8,1"/>
<text x="242.60" y="201.30" font-size="2.8" fill="#1a1a1a" stroke="#1a1a1a" stroke-width="0.04" text-anchor="middle" >K2</text>
<line x1="242.50" y1="203.50" x2="243.90" y2="205.90" stroke="#444" stroke-width="0.6" />
<line x1="242.50" y1="210.15" x2="243.90" y2="212.55" stroke="#444" stroke-width="0.6" />
<line x1="242.50" y1="216.00" x2="243.90" y2="218.40" stroke="#444" stroke-width="0.6" />
<line x1="242.50" y1="231.65" x2="243.90" y2="234.05" stroke="#444" stroke-width="0.6" />
<text x="184.00" y="285.00" font-size="2.8" fill="#1a1a1a"  text-anchor="start" textLength="16.8" lengthAdjust="spacingAndGlyphs">85~265VAC/DC</text>
<line x1="194.30" y1="288.40" x2="199.30" y2="288.40" stroke="#555" stroke-width="0.6" />
<text x="196.50" y="286.50" font-size="2.0" fill="#1a1a1a" stroke="#1a1a1a" stroke-width="0.03" text-anchor="start" >L/+</text>
<line x1="199.30" y1="288.40" x2="201.20" y2="287.00" stroke="#444" stroke-width="0.6" />
<line x1="201.20" y1="288.40" x2="210.80" y2="288.40" stroke="#444" stroke-width="0.7" />
<line x1="194.30" y1="294.30" x2="199.30" y2="294.30" stroke="#555" stroke-width="0.6" />
<text x="196.50" y="292.40" font-size="2.0" fill="#1a1a1a" stroke="#1a1a1a" stroke-width="0.03" text-anchor="start" >N/-</text>
<line x1="199.30" y1="294.30" x2="201.20" y2="292.90" stroke="#444" stroke-width="0.6" />
<line x1="201.20" y1="294.30" x2="210.80" y2="294.30" stroke="#444" stroke-width="0.7" />
<line x1="206.80" y1="299.80" x2="210.80" y2="299.80" stroke="#444" stroke-width="0.7" />
<line x1="206.80" y1="299.80" x2="206.80" y2="301.80" stroke="#333" stroke-width="0.9" />
<circle cx="206.60" cy="301.80" r="0.90" fill="#222"/>
<circle cx="213.20" cy="288.40" r="2.20" stroke="#383838" stroke-width="0.8" fill="#e4e4e4"/>
<path d="M214.00,287.20 L212.50,289.00 L214.00,289.30" stroke="#777" stroke-width="0.45" fill="none"/>
<line x1="215.60" y1="288.40" x2="220.40" y2="288.40" stroke="#444" stroke-width="0.6" />
<text x="216.00" y="287.40" font-size="1.8" fill="#1a1a1a" stroke="#1a1a1a" stroke-width="0.02" text-anchor="start" >L/+</text>
<circle cx="213.20" cy="294.30" r="2.20" stroke="#383838" stroke-width="0.8" fill="#e4e4e4"/>
<path d="M214.00,293.10 L212.50,294.90 L214.00,295.20" stroke="#777" stroke-width="0.45" fill="none"/>
<line x1="215.60" y1="294.30" x2="220.40" y2="294.30" stroke="#444" stroke-width="0.6" />
<text x="216.00" y="293.30" font-size="1.8" fill="#1a1a1a" stroke="#1a1a1a" stroke-width="0.02" text-anchor="start" >N/-</text>
<circle cx="213.20" cy="299.80" r="2.20" stroke="#383838" stroke-width="0.8" fill="#e4e4e4"/>
<path d="M214.00,298.60 L212.50,300.40 L214.00,300.70" stroke="#777" stroke-width="0.45" fill="none"/>
<line x1="215.60" y1="299.80" x2="220.40" y2="299.80" stroke="#444" stroke-width="0.6" />
<text x="216.00" y="298.80" font-size="1.8" fill="#1a1a1a" stroke="#1a1a1a" stroke-width="0.02" text-anchor="start" >GND</text>
<rect x="220.40" y="285.40" width="5.85" height="17.90" stroke="#555" stroke-width="0.7" fill="none"/>
<text x="223.30" y="293.20" font-size="3.6" fill="#1a1a1a" stroke="#1a1a1a" stroke-width="0.1" text-anchor="middle" >电</text>
<text x="223.30" y="298.60" font-size="3.6" fill="#1a1a1a" stroke="#1a1a1a" stroke-width="0.1" text-anchor="middle" >源</text>
<line x1="216.00" y1="333.80" x2="236.00" y2="333.80" stroke="#555" stroke-width="0.7" />
<circle cx="213.75" cy="333.80" r="2.20" stroke="#383838" stroke-width="0.8" fill="#e4e4e4"/>
<path d="M214.55,332.60 L213.05,334.40 L214.55,334.70" stroke="#777" stroke-width="0.45" fill="none"/>
<text x="216.60" y="333.40" font-size="2.7" fill="#1a1a1a" stroke="#1a1a1a" stroke-width="0.04" text-anchor="start" >GND</text>
<line x1="216.00" y1="341.00" x2="236.00" y2="341.00" stroke="#555" stroke-width="0.7" />
<circle cx="213.75" cy="341.00" r="2.20" stroke="#383838" stroke-width="0.8" fill="#e4e4e4"/>
<path d="M214.55,339.80 L213.05,341.60 L214.55,341.90" stroke="#777" stroke-width="0.45" fill="none"/>
<text x="216.60" y="340.60" font-size="2.7" fill="#1a1a1a" stroke="#1a1a1a" stroke-width="0.04" text-anchor="start" >485B</text>
<line x1="216.00" y1="348.10" x2="236.00" y2="348.10" stroke="#555" stroke-width="0.7" />
<circle cx="213.75" cy="348.10" r="2.20" stroke="#383838" stroke-width="0.8" fill="#e4e4e4"/>
<path d="M214.55,346.90 L213.05,348.70 L214.55,349.00" stroke="#777" stroke-width="0.45" fill="none"/>
<text x="216.60" y="347.70" font-size="2.7" fill="#1a1a1a" stroke="#1a1a1a" stroke-width="0.04" text-anchor="start" >485A</text>
<line x1="199.40" y1="333.80" x2="211.30" y2="333.80" stroke="#555" stroke-width="0.7" />
<line x1="199.40" y1="333.80" x2="199.40" y2="339.40" stroke="#555" stroke-width="0.7" />
<ellipse cx="199.6" cy="345.0" rx="2.4" ry="5.9" stroke="#555" stroke-width="0.7" fill="none"/>
<path d="M195.6,340.3 q-4.2,4.8 0,9.6" stroke="#444" stroke-width="0.8" fill="none"/>
<line x1="191.00" y1="340.20" x2="203.50" y2="340.20" stroke="#aaa" stroke-width="0.5" />
<line x1="191.00" y1="350.20" x2="203.50" y2="350.20" stroke="#aaa" stroke-width="0.5" />
<rect x="224.00" y="332.40" width="9.00" height="3.00" stroke="#444" stroke-width="0.6" fill="#ccc"/>
<line x1="224.50" y1="336.00" x2="232.00" y2="331.50" stroke="#444" stroke-width="0.5" />
<circle cx="222.60" cy="333.80" r="0.60" fill="#222"/>
<circle cx="234.60" cy="333.80" r="0.60" fill="#222"/>
<text x="222.50" y="331.20" font-size="2.1" fill="#1a1a1a" stroke="#1a1a1a" stroke-width="0.03" text-anchor="start" >120R</text>
<text x="227.00" y="338.60" font-size="2.0" fill="#1a1a1a" stroke="#1a1a1a" stroke-width="0.03" text-anchor="start" >R</text>
<rect x="236.00" y="330.00" width="19.60" height="23.10" stroke="#555" stroke-width="0.8" fill="none"/>
<text x="245.80" y="340.00" font-size="4.0" fill="#1a1a1a" stroke="#1a1a1a" stroke-width="0.08" text-anchor="middle" textLength="12.5" lengthAdjust="spacingAndGlyphs">485驱动</text>
<text x="245.80" y="346.20" font-size="4.0" fill="#1a1a1a" stroke="#1a1a1a" stroke-width="0.08" text-anchor="middle" textLength="13.8" lengthAdjust="spacingAndGlyphs">接收模块</text>
<circle cx="395.00" cy="78.00" r="2.30" stroke="#383838" stroke-width="0.8" fill="#e4e4e4"/>
<path d="M395.80,76.80 L394.30,78.60 L395.80,78.90" stroke="#777" stroke-width="0.45" fill="none"/>
<line x1="397.50" y1="78.00" x2="407.25" y2="78.00" stroke="#555" stroke-width="0.7" />
<circle cx="395.00" cy="84.85" r="2.30" stroke="#383838" stroke-width="0.8" fill="#e4e4e4"/>
<path d="M395.80,83.65 L394.30,85.45 L395.80,85.75" stroke="#777" stroke-width="0.45" fill="none"/>
<line x1="397.50" y1="84.85" x2="407.25" y2="84.85" stroke="#555" stroke-width="0.7" />
<circle cx="395.00" cy="91.70" r="2.30" stroke="#383838" stroke-width="0.8" fill="#e4e4e4"/>
<path d="M395.80,90.50 L394.30,92.30 L395.80,92.60" stroke="#777" stroke-width="0.45" fill="none"/>
<line x1="397.50" y1="91.70" x2="407.25" y2="91.70" stroke="#555" stroke-width="0.7" />
<circle cx="395.00" cy="98.55" r="2.30" stroke="#383838" stroke-width="0.8" fill="#e4e4e4"/>
<path d="M395.80,97.35 L394.30,99.15 L395.80,99.45" stroke="#777" stroke-width="0.45" fill="none"/>
<line x1="397.50" y1="98.55" x2="407.25" y2="98.55" stroke="#555" stroke-width="0.7" />
<circle cx="395.00" cy="105.40" r="2.30" stroke="#383838" stroke-width="0.8" fill="#e4e4e4"/>
<path d="M395.80,104.20 L394.30,106.00 L395.80,106.30" stroke="#777" stroke-width="0.45" fill="none"/>
<line x1="397.50" y1="105.40" x2="407.25" y2="105.40" stroke="#555" stroke-width="0.7" />
<circle cx="395.00" cy="112.25" r="2.30" stroke="#383838" stroke-width="0.8" fill="#e4e4e4"/>
<path d="M395.80,111.05 L394.30,112.85 L395.80,113.15" stroke="#777" stroke-width="0.45" fill="none"/>
<line x1="397.50" y1="112.25" x2="407.25" y2="112.25" stroke="#555" stroke-width="0.7" />
<circle cx="395.00" cy="119.10" r="2.30" stroke="#383838" stroke-width="0.8" fill="#e4e4e4"/>
<path d="M395.80,117.90 L394.30,119.70 L395.80,120.00" stroke="#777" stroke-width="0.45" fill="none"/>
<line x1="397.50" y1="119.10" x2="407.25" y2="119.10" stroke="#555" stroke-width="0.7" />
<circle cx="395.00" cy="125.95" r="2.30" stroke="#383838" stroke-width="0.8" fill="#e4e4e4"/>
<path d="M395.80,124.75 L394.30,126.55 L395.80,126.85" stroke="#777" stroke-width="0.45" fill="none"/>
<line x1="397.50" y1="125.95" x2="407.25" y2="125.95" stroke="#555" stroke-width="0.7" />
<circle cx="395.00" cy="132.80" r="2.30" stroke="#383838" stroke-width="0.8" fill="#e4e4e4"/>
<path d="M395.80,131.60 L394.30,133.40 L395.80,133.70" stroke="#777" stroke-width="0.45" fill="none"/>
<line x1="397.50" y1="132.80" x2="407.25" y2="132.80" stroke="#555" stroke-width="0.7" />
<circle cx="395.00" cy="139.65" r="2.30" stroke="#383838" stroke-width="0.8" fill="#e4e4e4"/>
<path d="M395.80,138.45 L394.30,140.25 L395.80,140.55" stroke="#777" stroke-width="0.45" fill="none"/>
<line x1="397.50" y1="139.65" x2="407.25" y2="139.65" stroke="#555" stroke-width="0.7" />
<circle cx="395.00" cy="146.50" r="2.30" stroke="#383838" stroke-width="0.8" fill="#e4e4e4"/>
<path d="M395.80,145.30 L394.30,147.10 L395.80,147.40" stroke="#777" stroke-width="0.45" fill="none"/>
<line x1="397.50" y1="146.50" x2="407.25" y2="146.50" stroke="#555" stroke-width="0.7" />
<circle cx="395.00" cy="153.35" r="2.30" stroke="#383838" stroke-width="0.8" fill="#e4e4e4"/>
<path d="M395.80,152.15 L394.30,153.95 L395.80,154.25" stroke="#777" stroke-width="0.45" fill="none"/>
<line x1="397.50" y1="153.35" x2="407.25" y2="153.35" stroke="#555" stroke-width="0.7" />
<polyline points="392.50,78.00 389.00,78.00 386.50,75.80" stroke="#333" stroke-width="0.6" fill="none"/>
<polyline points="385.50,78.00 383.10,78.00 383.10,84.85 392.50,84.85" stroke="#333" stroke-width="0.6" fill="none"/>
<text x="384.80" y="76.00" font-size="2.8" fill="#1a1a1a" stroke="#1a1a1a" stroke-width="0.05" text-anchor="start" >KO1+</text>
<text x="384.80" y="83.95" font-size="2.8" fill="#1a1a1a" stroke="#1a1a1a" stroke-width="0.05" text-anchor="start" >KO1-</text>
<polyline points="392.50,91.70 389.00,91.70 386.50,89.50" stroke="#333" stroke-width="0.6" fill="none"/>
<polyline points="385.50,91.70 383.10,91.70 383.10,98.55 392.50,98.55" stroke="#333" stroke-width="0.6" fill="none"/>
<text x="384.80" y="89.70" font-size="2.8" fill="#1a1a1a" stroke="#1a1a1a" stroke-width="0.05" text-anchor="start" >KO2+</text>
<text x="384.80" y="97.65" font-size="2.8" fill="#1a1a1a" stroke="#1a1a1a" stroke-width="0.05" text-anchor="start" >KO2-</text>
<polyline points="392.50,105.40 389.00,105.40 386.50,103.20" stroke="#333" stroke-width="0.6" fill="none"/>
<polyline points="385.50,105.40 383.10,105.40 383.10,112.25 392.50,112.25" stroke="#333" stroke-width="0.6" fill="none"/>
<text x="384.80" y="103.40" font-size="2.8" fill="#1a1a1a" stroke="#1a1a1a" stroke-width="0.05" text-anchor="start" >KO3+</text>
<text x="384.80" y="111.35" font-size="2.8" fill="#1a1a1a" stroke="#1a1a1a" stroke-width="0.05" text-anchor="start" >KO3-</text>
<polyline points="392.50,119.10 389.00,119.10 386.50,116.90" stroke="#333" stroke-width="0.6" fill="none"/>
<polyline points="385.50,119.10 383.10,119.10 383.10,125.95 392.50,125.95" stroke="#333" stroke-width="0.6" fill="none"/>
<text x="384.80" y="117.10" font-size="2.8" fill="#1a1a1a" stroke="#1a1a1a" stroke-width="0.05" text-anchor="start" >KO4+</text>
<text x="384.80" y="125.05" font-size="2.8" fill="#1a1a1a" stroke="#1a1a1a" stroke-width="0.05" text-anchor="start" >KO4-</text>
<polyline points="392.50,132.80 389.00,132.80 386.50,130.60" stroke="#333" stroke-width="0.6" fill="none"/>
<polyline points="385.50,132.80 383.10,132.80 383.10,139.65 392.50,139.65" stroke="#333" stroke-width="0.6" fill="none"/>
<text x="384.80" y="130.80" font-size="2.8" fill="#1a1a1a" stroke="#1a1a1a" stroke-width="0.05" text-anchor="start" >KO5+</text>
<text x="384.80" y="138.75" font-size="2.8" fill="#1a1a1a" stroke="#1a1a1a" stroke-width="0.05" text-anchor="start" >KO5-</text>
<polyline points="392.50,146.50 389.00,146.50 386.50,144.30" stroke="#333" stroke-width="0.6" fill="none"/>
<polyline points="385.50,146.50 383.10,146.50 383.10,153.35 392.50,153.35" stroke="#333" stroke-width="0.6" fill="none"/>
<text x="384.80" y="144.50" font-size="2.8" fill="#1a1a1a" stroke="#1a1a1a" stroke-width="0.05" text-anchor="start" >KO6+</text>
<text x="384.80" y="152.45" font-size="2.8" fill="#1a1a1a" stroke="#1a1a1a" stroke-width="0.05" text-anchor="start" >KO6-</text>
<text x="382.50" y="161.50" font-size="2.8" fill="#1a1a1a" stroke="#1a1a1a" stroke-width="0.05" text-anchor="start" >KH08</text>
<text x="398.80" y="161.80" font-size="2.6" fill="#1a1a1a" stroke="#1a1a1a" stroke-width="0.05" text-anchor="start" >ABF</text>
<text x="405.00" y="161.80" font-size="2.6" fill="#1a1a1a" stroke="#1a1a1a" stroke-width="0.05" text-anchor="start" >BBF</text>
<text x="411.00" y="161.80" font-size="2.6" fill="#1a1a1a" stroke="#1a1a1a" stroke-width="0.05" text-anchor="start" >ASR</text>
<circle cx="395.00" cy="169.50" r="2.30" stroke="#383838" stroke-width="0.8" fill="#e4e4e4"/>
<path d="M395.80,168.30 L394.30,170.10 L395.80,170.40" stroke="#777" stroke-width="0.45" fill="none"/>
<circle cx="395.00" cy="176.60" r="2.30" stroke="#383838" stroke-width="0.8" fill="#e4e4e4"/>
<path d="M395.80,175.40 L394.30,177.20 L395.80,177.50" stroke="#777" stroke-width="0.45" fill="none"/>
<circle cx="395.00" cy="183.70" r="2.30" stroke="#383838" stroke-width="0.8" fill="#e4e4e4"/>
<path d="M395.80,182.50 L394.30,184.30 L395.80,184.60" stroke="#777" stroke-width="0.45" fill="none"/>
<circle cx="395.00" cy="190.80" r="2.30" stroke="#383838" stroke-width="0.8" fill="#e4e4e4"/>
<path d="M395.80,189.60 L394.30,191.40 L395.80,191.70" stroke="#777" stroke-width="0.45" fill="none"/>
<circle cx="395.00" cy="197.90" r="2.30" stroke="#383838" stroke-width="0.8" fill="#e4e4e4"/>
<path d="M395.80,196.70 L394.30,198.50 L395.80,198.80" stroke="#777" stroke-width="0.45" fill="none"/>
<circle cx="395.00" cy="205.00" r="2.30" stroke="#383838" stroke-width="0.8" fill="#e4e4e4"/>
<path d="M395.80,203.80 L394.30,205.60 L395.80,205.90" stroke="#777" stroke-width="0.45" fill="none"/>
<polyline points="392.50,169.50 389.00,169.50 386.50,167.30" stroke="#333" stroke-width="0.6" fill="none"/>
<polyline points="385.50,169.50 383.10,169.50 383.10,176.60 392.50,176.60" stroke="#333" stroke-width="0.6" fill="none"/>
<text x="385.50" y="167.30" font-size="2.8" fill="#1a1a1a" stroke="#1a1a1a" stroke-width="0.05" text-anchor="start" >SQ</text>
<polyline points="392.50,183.70 389.00,183.70 386.50,181.50" stroke="#333" stroke-width="0.6" fill="none"/>
<polyline points="385.50,183.70 383.10,183.70 383.10,190.80 392.50,190.80" stroke="#333" stroke-width="0.6" fill="none"/>
<text x="385.50" y="181.50" font-size="2.8" fill="#1a1a1a" stroke="#1a1a1a" stroke-width="0.05" text-anchor="start" >SQ</text>
<polyline points="392.50,197.90 389.00,197.90 386.50,195.70" stroke="#333" stroke-width="0.6" fill="none"/>
<polyline points="385.50,197.90 383.10,197.90 383.10,205.00 392.50,205.00" stroke="#333" stroke-width="0.6" fill="none"/>
<text x="385.50" y="195.70" font-size="2.8" fill="#1a1a1a" stroke="#1a1a1a" stroke-width="0.05" text-anchor="start" >SQ</text>
<line x1="397.50" y1="169.50" x2="401.00" y2="169.50" stroke="#444" stroke-width="0.6" />
<circle cx="401.00" cy="169.50" r="0.70" fill="#222"/>
<line x1="397.50" y1="176.60" x2="407.20" y2="176.60" stroke="#444" stroke-width="0.6" />
<circle cx="407.20" cy="176.60" r="0.70" fill="#222"/>
<line x1="397.50" y1="183.70" x2="401.00" y2="183.70" stroke="#444" stroke-width="0.6" />
<circle cx="401.00" cy="183.70" r="0.70" fill="#222"/>
<line x1="397.50" y1="190.80" x2="413.20" y2="190.80" stroke="#444" stroke-width="0.6" />
<circle cx="413.20" cy="190.80" r="0.70" fill="#222"/>
<line x1="397.50" y1="197.90" x2="401.00" y2="197.90" stroke="#444" stroke-width="0.6" />
<circle cx="401.00" cy="197.90" r="0.70" fill="#222"/>
<line x1="397.50" y1="205.00" x2="407.20" y2="205.00" stroke="#444" stroke-width="0.6" />
<circle cx="407.20" cy="205.00" r="0.70" fill="#222"/>
<line x1="401.00" y1="163.00" x2="401.00" y2="198.50" stroke="#444" stroke-width="0.6" />
<line x1="407.20" y1="163.00" x2="407.20" y2="205.30" stroke="#444" stroke-width="0.6" />
<line x1="413.20" y1="163.00" x2="413.20" y2="190.80" stroke="#444" stroke-width="0.6" />
<line x1="362.80" y1="219.50" x2="367.00" y2="219.50" stroke="#444" stroke-width="0.6" />
<polyline points="365.60,217.10 369.30,219.50 365.60,221.90" stroke="#1a1a1a" stroke-width="1.0" fill="none"/>
<line x1="366.50" y1="213.80" x2="366.50" y2="217.10" stroke="#333" stroke-width="0.8" />
<line x1="365.40" y1="213.80" x2="367.60" y2="213.80" stroke="#555" stroke-width="0.5" />
<line x1="372.40" y1="213.80" x2="372.40" y2="222.90" stroke="#333" stroke-width="0.8" />
<line x1="371.30" y1="213.80" x2="373.50" y2="213.80" stroke="#555" stroke-width="0.5" />
<line x1="373.00" y1="217.50" x2="373.00" y2="223.10" stroke="#111" stroke-width="1.1" />
<line x1="375.00" y1="217.50" x2="375.00" y2="223.10" stroke="#222" stroke-width="1.0" />
<line x1="372.40" y1="220.00" x2="375.00" y2="220.00" stroke="#333" stroke-width="0.6" />
<polyline points="373.00,215.60 386.20,215.60 386.20,222.90" stroke="#444" stroke-width="0.6" fill="none"/>
<line x1="377.50" y1="217.50" x2="377.50" y2="222.90" stroke="#555" stroke-width="0.6" />
<line x1="384.40" y1="217.50" x2="384.40" y2="222.90" stroke="#555" stroke-width="0.6" />
<path d="M379.6,222.90 l1,-1.4 l1,1.4" stroke="#555" stroke-width="0.5" fill="#888"/>
<line x1="372.40" y1="222.90" x2="393.00" y2="222.90" stroke="#444" stroke-width="0.6" />
<path d="M386.5,222.90 q0.8,-1.2 1.6,0 q0.8,-1.2 1.6,0 q0.8,-1.2 1.6,0" stroke="#444" stroke-width="0.5" fill="none"/>
<circle cx="395.30" cy="222.50" r="2.40" stroke="#383838" stroke-width="0.95" fill="#e4e4e4"/>
<path d="M396.10,221.30 L394.60,223.10 L396.10,223.40" stroke="#777" stroke-width="0.45" fill="none"/>
<line x1="397.70" y1="222.50" x2="405.00" y2="222.50" stroke="#444" stroke-width="0.6" />
<line x1="405.00" y1="222.50" x2="408.60" y2="219.50" stroke="#444" stroke-width="0.6" />
<line x1="409.20" y1="222.50" x2="415.25" y2="222.50" stroke="#444" stroke-width="0.6" />
<text x="407.50" y="218.10" font-size="2.6" fill="#1a1a1a" stroke="#1a1a1a" stroke-width="0.05" text-anchor="middle" >SA</text>
<line x1="362.80" y1="229.45" x2="367.00" y2="229.45" stroke="#444" stroke-width="0.6" />
<polyline points="365.60,227.05 369.30,229.45 365.60,231.85" stroke="#1a1a1a" stroke-width="1.0" fill="none"/>
<line x1="366.50" y1="223.75" x2="366.50" y2="227.05" stroke="#333" stroke-width="0.8" />
<line x1="365.40" y1="223.75" x2="367.60" y2="223.75" stroke="#555" stroke-width="0.5" />
<line x1="372.40" y1="223.75" x2="372.40" y2="232.85" stroke="#333" stroke-width="0.8" />
<line x1="371.30" y1="223.75" x2="373.50" y2="223.75" stroke="#555" stroke-width="0.5" />
<line x1="373.00" y1="227.45" x2="373.00" y2="233.05" stroke="#111" stroke-width="1.1" />
<line x1="375.00" y1="227.45" x2="375.00" y2="233.05" stroke="#222" stroke-width="1.0" />
<line x1="372.40" y1="229.95" x2="375.00" y2="229.95" stroke="#333" stroke-width="0.6" />
<polyline points="373.00,225.55 386.20,225.55 386.20,232.85" stroke="#444" stroke-width="0.6" fill="none"/>
<line x1="377.50" y1="227.45" x2="377.50" y2="232.85" stroke="#555" stroke-width="0.6" />
<line x1="384.40" y1="227.45" x2="384.40" y2="232.85" stroke="#555" stroke-width="0.6" />
<path d="M379.6,232.85 l1,-1.4 l1,1.4" stroke="#555" stroke-width="0.5" fill="#888"/>
<line x1="372.40" y1="232.85" x2="393.00" y2="232.85" stroke="#444" stroke-width="0.6" />
<path d="M386.5,232.85 q0.8,-1.2 1.6,0 q0.8,-1.2 1.6,0 q0.8,-1.2 1.6,0" stroke="#444" stroke-width="0.5" fill="none"/>
<circle cx="395.30" cy="232.45" r="2.40" stroke="#383838" stroke-width="0.95" fill="#e4e4e4"/>
<path d="M396.10,231.25 L394.60,233.05 L396.10,233.35" stroke="#777" stroke-width="0.45" fill="none"/>
<line x1="397.70" y1="232.45" x2="405.00" y2="232.45" stroke="#444" stroke-width="0.6" />
<line x1="405.00" y1="232.45" x2="408.60" y2="229.45" stroke="#444" stroke-width="0.6" />
<line x1="409.20" y1="232.45" x2="415.25" y2="232.45" stroke="#444" stroke-width="0.6" />
<text x="407.50" y="228.05" font-size="2.6" fill="#1a1a1a" stroke="#1a1a1a" stroke-width="0.05" text-anchor="middle" >SA</text>
<line x1="362.80" y1="239.40" x2="367.00" y2="239.40" stroke="#444" stroke-width="0.6" />
<polyline points="365.60,237.00 369.30,239.40 365.60,241.80" stroke="#1a1a1a" stroke-width="1.0" fill="none"/>
<line x1="366.50" y1="233.70" x2="366.50" y2="237.00" stroke="#333" stroke-width="0.8" />
<line x1="365.40" y1="233.70" x2="367.60" y2="233.70" stroke="#555" stroke-width="0.5" />
<line x1="372.40" y1="233.70" x2="372.40" y2="242.80" stroke="#333" stroke-width="0.8" />
<line x1="371.30" y1="233.70" x2="373.50" y2="233.70" stroke="#555" stroke-width="0.5" />
<line x1="373.00" y1="237.40" x2="373.00" y2="243.00" stroke="#111" stroke-width="1.1" />
<line x1="375.00" y1="237.40" x2="375.00" y2="243.00" stroke="#222" stroke-width="1.0" />
<line x1="372.40" y1="239.90" x2="375.00" y2="239.90" stroke="#333" stroke-width="0.6" />
<polyline points="373.00,235.50 386.20,235.50 386.20,242.80" stroke="#444" stroke-width="0.6" fill="none"/>
<line x1="377.50" y1="237.40" x2="377.50" y2="242.80" stroke="#555" stroke-width="0.6" />
<line x1="384.40" y1="237.40" x2="384.40" y2="242.80" stroke="#555" stroke-width="0.6" />
<path d="M379.6,242.80 l1,-1.4 l1,1.4" stroke="#555" stroke-width="0.5" fill="#888"/>
<line x1="372.40" y1="242.80" x2="393.00" y2="242.80" stroke="#444" stroke-width="0.6" />
<path d="M386.5,242.80 q0.8,-1.2 1.6,0 q0.8,-1.2 1.6,0 q0.8,-1.2 1.6,0" stroke="#444" stroke-width="0.5" fill="none"/>
<circle cx="395.30" cy="242.40" r="2.40" stroke="#383838" stroke-width="0.95" fill="#e4e4e4"/>
<path d="M396.10,241.20 L394.60,243.00 L396.10,243.30" stroke="#777" stroke-width="0.45" fill="none"/>
<line x1="397.70" y1="242.40" x2="404.20" y2="242.40" stroke="#444" stroke-width="0.6" stroke-dasharray="1,0.8"/>
<circle cx="405.00" cy="242.40" r="0.80" stroke="#444" stroke-width="0.5" fill="none"/>
<circle cx="412.00" cy="242.40" r="0.80" stroke="#444" stroke-width="0.5" fill="none"/>
<line x1="404.00" y1="240.10" x2="413.00" y2="240.10" stroke="#333" stroke-width="0.7" />
<line x1="408.50" y1="240.10" x2="408.50" y2="238.60" stroke="#333" stroke-width="0.6" />
<line x1="412.80" y1="242.40" x2="415.25" y2="242.40" stroke="#444" stroke-width="0.6" stroke-dasharray="1,0.8"/>
<text x="408.50" y="238.10" font-size="2.2" fill="#1a1a1a" stroke="#1a1a1a" stroke-width="0.03" text-anchor="middle" >SEO</text>
<line x1="362.80" y1="249.35" x2="367.00" y2="249.35" stroke="#444" stroke-width="0.6" />
<polyline points="365.60,246.95 369.30,249.35 365.60,251.75" stroke="#1a1a1a" stroke-width="1.0" fill="none"/>
<line x1="366.50" y1="243.65" x2="366.50" y2="246.95" stroke="#333" stroke-width="0.8" />
<line x1="365.40" y1="243.65" x2="367.60" y2="243.65" stroke="#555" stroke-width="0.5" />
<line x1="372.40" y1="243.65" x2="372.40" y2="252.75" stroke="#333" stroke-width="0.8" />
<line x1="371.30" y1="243.65" x2="373.50" y2="243.65" stroke="#555" stroke-width="0.5" />
<line x1="373.00" y1="247.35" x2="373.00" y2="252.95" stroke="#111" stroke-width="1.1" />
<line x1="375.00" y1="247.35" x2="375.00" y2="252.95" stroke="#222" stroke-width="1.0" />
<line x1="372.40" y1="249.85" x2="375.00" y2="249.85" stroke="#333" stroke-width="0.6" />
<polyline points="373.00,245.45 386.20,245.45 386.20,252.75" stroke="#444" stroke-width="0.6" fill="none"/>
<line x1="377.50" y1="247.35" x2="377.50" y2="252.75" stroke="#555" stroke-width="0.6" />
<line x1="384.40" y1="247.35" x2="384.40" y2="252.75" stroke="#555" stroke-width="0.6" />
<path d="M379.6,252.75 l1,-1.4 l1,1.4" stroke="#555" stroke-width="0.5" fill="#888"/>
<line x1="372.40" y1="252.75" x2="393.00" y2="252.75" stroke="#444" stroke-width="0.6" />
<path d="M386.5,252.75 q0.8,-1.2 1.6,0 q0.8,-1.2 1.6,0 q0.8,-1.2 1.6,0" stroke="#444" stroke-width="0.5" fill="none"/>
<circle cx="395.30" cy="252.35" r="2.40" stroke="#383838" stroke-width="0.95" fill="#e4e4e4"/>
<path d="M396.10,251.15 L394.60,252.95 L396.10,253.25" stroke="#777" stroke-width="0.45" fill="none"/>
<line x1="397.70" y1="252.35" x2="405.00" y2="252.35" stroke="#444" stroke-width="0.6" stroke-dasharray="1,0.8"/>
<line x1="405.00" y1="252.35" x2="408.60" y2="249.35" stroke="#444" stroke-width="0.6" />
<line x1="409.20" y1="252.35" x2="415.25" y2="252.35" stroke="#444" stroke-width="0.6" stroke-dasharray="1,0.8"/>
<text x="407.50" y="247.95" font-size="2.6" fill="#1a1a1a" stroke="#1a1a1a" stroke-width="0.05" text-anchor="middle" >QK</text>
<line x1="362.80" y1="259.30" x2="367.00" y2="259.30" stroke="#444" stroke-width="0.6" />
<polyline points="365.60,256.90 369.30,259.30 365.60,261.70" stroke="#1a1a1a" stroke-width="1.0" fill="none"/>
<line x1="366.50" y1="253.60" x2="366.50" y2="256.90" stroke="#333" stroke-width="0.8" />
<line x1="365.40" y1="253.60" x2="367.60" y2="253.60" stroke="#555" stroke-width="0.5" />
<line x1="372.40" y1="253.60" x2="372.40" y2="262.70" stroke="#333" stroke-width="0.8" />
<line x1="371.30" y1="253.60" x2="373.50" y2="253.60" stroke="#555" stroke-width="0.5" />
<line x1="373.00" y1="257.30" x2="373.00" y2="262.90" stroke="#111" stroke-width="1.1" />
<line x1="375.00" y1="257.30" x2="375.00" y2="262.90" stroke="#222" stroke-width="1.0" />
<line x1="372.40" y1="259.80" x2="375.00" y2="259.80" stroke="#333" stroke-width="0.6" />
<polyline points="373.00,255.40 386.20,255.40 386.20,262.70" stroke="#444" stroke-width="0.6" fill="none"/>
<line x1="377.50" y1="257.30" x2="377.50" y2="262.70" stroke="#555" stroke-width="0.6" />
<line x1="384.40" y1="257.30" x2="384.40" y2="262.70" stroke="#555" stroke-width="0.6" />
<path d="M379.6,262.70 l1,-1.4 l1,1.4" stroke="#555" stroke-width="0.5" fill="#888"/>
<line x1="372.40" y1="262.70" x2="393.00" y2="262.70" stroke="#444" stroke-width="0.6" />
<path d="M386.5,262.70 q0.8,-1.2 1.6,0 q0.8,-1.2 1.6,0 q0.8,-1.2 1.6,0" stroke="#444" stroke-width="0.5" fill="none"/>
<circle cx="395.30" cy="262.30" r="2.40" stroke="#383838" stroke-width="0.95" fill="#e4e4e4"/>
<path d="M396.10,261.10 L394.60,262.90 L396.10,263.20" stroke="#777" stroke-width="0.45" fill="none"/>
<line x1="397.70" y1="262.30" x2="405.00" y2="262.30" stroke="#444" stroke-width="0.6" />
<line x1="405.00" y1="262.30" x2="408.60" y2="259.30" stroke="#444" stroke-width="0.6" />
<line x1="409.20" y1="262.30" x2="415.25" y2="262.30" stroke="#444" stroke-width="0.6" />
<text x="407.50" y="257.90" font-size="2.6" fill="#1a1a1a" stroke="#1a1a1a" stroke-width="0.05" text-anchor="middle" >QK</text>
<line x1="362.80" y1="269.25" x2="367.00" y2="269.25" stroke="#444" stroke-width="0.6" />
<polyline points="365.60,266.85 369.30,269.25 365.60,271.65" stroke="#1a1a1a" stroke-width="1.0" fill="none"/>
<line x1="366.50" y1="263.55" x2="366.50" y2="266.85" stroke="#333" stroke-width="0.8" />
<line x1="365.40" y1="263.55" x2="367.60" y2="263.55" stroke="#555" stroke-width="0.5" />
<line x1="372.40" y1="263.55" x2="372.40" y2="272.65" stroke="#333" stroke-width="0.8" />
<line x1="371.30" y1="263.55" x2="373.50" y2="263.55" stroke="#555" stroke-width="0.5" />
<line x1="373.00" y1="267.25" x2="373.00" y2="272.85" stroke="#111" stroke-width="1.1" />
<line x1="375.00" y1="267.25" x2="375.00" y2="272.85" stroke="#222" stroke-width="1.0" />
<line x1="372.40" y1="269.75" x2="375.00" y2="269.75" stroke="#333" stroke-width="0.6" />
<polyline points="373.00,265.35 386.20,265.35 386.20,272.65" stroke="#444" stroke-width="0.6" fill="none"/>
<line x1="377.50" y1="267.25" x2="377.50" y2="272.65" stroke="#555" stroke-width="0.6" />
<line x1="384.40" y1="267.25" x2="384.40" y2="272.65" stroke="#555" stroke-width="0.6" />
<path d="M379.6,272.65 l1,-1.4 l1,1.4" stroke="#555" stroke-width="0.5" fill="#888"/>
<line x1="372.40" y1="272.65" x2="393.00" y2="272.65" stroke="#444" stroke-width="0.6" />
<path d="M386.5,272.65 q0.8,-1.2 1.6,0 q0.8,-1.2 1.6,0 q0.8,-1.2 1.6,0" stroke="#444" stroke-width="0.5" fill="none"/>
<circle cx="395.30" cy="272.25" r="2.40" stroke="#383838" stroke-width="0.95" fill="#e4e4e4"/>
<path d="M396.10,271.05 L394.60,272.85 L396.10,273.15" stroke="#777" stroke-width="0.45" fill="none"/>
<line x1="397.70" y1="272.25" x2="405.00" y2="272.25" stroke="#444" stroke-width="0.6" />
<line x1="405.00" y1="272.25" x2="408.60" y2="269.25" stroke="#444" stroke-width="0.6" />
<line x1="409.20" y1="272.25" x2="415.25" y2="272.25" stroke="#444" stroke-width="0.6" />
<text x="407.50" y="267.85" font-size="2.6" fill="#1a1a1a" stroke="#1a1a1a" stroke-width="0.05" text-anchor="middle" >QK</text>
<line x1="362.80" y1="279.20" x2="367.00" y2="279.20" stroke="#444" stroke-width="0.6" />
<polyline points="365.60,276.80 369.30,279.20 365.60,281.60" stroke="#1a1a1a" stroke-width="1.0" fill="none"/>
<line x1="366.50" y1="273.50" x2="366.50" y2="276.80" stroke="#333" stroke-width="0.8" />
<line x1="365.40" y1="273.50" x2="367.60" y2="273.50" stroke="#555" stroke-width="0.5" />
<line x1="372.40" y1="273.50" x2="372.40" y2="282.60" stroke="#333" stroke-width="0.8" />
<line x1="371.30" y1="273.50" x2="373.50" y2="273.50" stroke="#555" stroke-width="0.5" />
<line x1="373.00" y1="277.20" x2="373.00" y2="282.80" stroke="#111" stroke-width="1.1" />
<line x1="375.00" y1="277.20" x2="375.00" y2="282.80" stroke="#222" stroke-width="1.0" />
<line x1="372.40" y1="279.70" x2="375.00" y2="279.70" stroke="#333" stroke-width="0.6" />
<polyline points="373.00,275.30 386.20,275.30 386.20,282.60" stroke="#444" stroke-width="0.6" fill="none"/>
<line x1="377.50" y1="277.20" x2="377.50" y2="282.60" stroke="#555" stroke-width="0.6" />
<line x1="384.40" y1="277.20" x2="384.40" y2="282.60" stroke="#555" stroke-width="0.6" />
<path d="M379.6,282.60 l1,-1.4 l1,1.4" stroke="#555" stroke-width="0.5" fill="#888"/>
<line x1="372.40" y1="282.60" x2="393.00" y2="282.60" stroke="#444" stroke-width="0.6" />
<path d="M386.5,282.60 q0.8,-1.2 1.6,0 q0.8,-1.2 1.6,0 q0.8,-1.2 1.6,0" stroke="#444" stroke-width="0.5" fill="none"/>
<circle cx="395.30" cy="282.20" r="2.40" stroke="#383838" stroke-width="0.95" fill="#e4e4e4"/>
<path d="M396.10,281.00 L394.60,282.80 L396.10,283.10" stroke="#777" stroke-width="0.45" fill="none"/>
<line x1="397.70" y1="282.20" x2="405.00" y2="282.20" stroke="#444" stroke-width="0.6" />
<line x1="405.00" y1="282.20" x2="408.60" y2="279.20" stroke="#444" stroke-width="0.6" />
<line x1="409.20" y1="282.20" x2="415.25" y2="282.20" stroke="#444" stroke-width="0.6" />
<text x="407.50" y="277.80" font-size="2.6" fill="#1a1a1a" stroke="#1a1a1a" stroke-width="0.05" text-anchor="middle" >QL</text>
<line x1="362.80" y1="289.15" x2="367.00" y2="289.15" stroke="#444" stroke-width="0.6" />
<polyline points="365.60,286.75 369.30,289.15 365.60,291.55" stroke="#1a1a1a" stroke-width="1.0" fill="none"/>
<line x1="366.50" y1="283.45" x2="366.50" y2="286.75" stroke="#333" stroke-width="0.8" />
<line x1="365.40" y1="283.45" x2="367.60" y2="283.45" stroke="#555" stroke-width="0.5" />
<line x1="372.40" y1="283.45" x2="372.40" y2="292.55" stroke="#333" stroke-width="0.8" />
<line x1="371.30" y1="283.45" x2="373.50" y2="283.45" stroke="#555" stroke-width="0.5" />
<line x1="373.00" y1="287.15" x2="373.00" y2="292.75" stroke="#111" stroke-width="1.1" />
<line x1="375.00" y1="287.15" x2="375.00" y2="292.75" stroke="#222" stroke-width="1.0" />
<line x1="372.40" y1="289.65" x2="375.00" y2="289.65" stroke="#333" stroke-width="0.6" />
<polyline points="373.00,285.25 386.20,285.25 386.20,292.55" stroke="#444" stroke-width="0.6" fill="none"/>
<line x1="377.50" y1="287.15" x2="377.50" y2="292.55" stroke="#555" stroke-width="0.6" />
<line x1="384.40" y1="287.15" x2="384.40" y2="292.55" stroke="#555" stroke-width="0.6" />
<path d="M379.6,292.55 l1,-1.4 l1,1.4" stroke="#555" stroke-width="0.5" fill="#888"/>
<line x1="372.40" y1="292.55" x2="393.00" y2="292.55" stroke="#444" stroke-width="0.6" />
<path d="M386.5,292.55 q0.8,-1.2 1.6,0 q0.8,-1.2 1.6,0 q0.8,-1.2 1.6,0" stroke="#444" stroke-width="0.5" fill="none"/>
<circle cx="395.30" cy="292.15" r="2.40" stroke="#383838" stroke-width="0.95" fill="#e4e4e4"/>
<path d="M396.10,290.95 L394.60,292.75 L396.10,293.05" stroke="#777" stroke-width="0.45" fill="none"/>
<line x1="397.70" y1="292.15" x2="405.00" y2="292.15" stroke="#444" stroke-width="0.6" />
<line x1="405.00" y1="292.15" x2="408.60" y2="289.15" stroke="#444" stroke-width="0.6" />
<line x1="409.20" y1="292.15" x2="415.25" y2="292.15" stroke="#444" stroke-width="0.6" />
<text x="407.50" y="287.75" font-size="2.6" fill="#1a1a1a" stroke="#1a1a1a" stroke-width="0.05" text-anchor="middle" >QM</text>
<line x1="362.80" y1="299.10" x2="367.00" y2="299.10" stroke="#444" stroke-width="0.6" />
<polyline points="365.60,296.70 369.30,299.10 365.60,301.50" stroke="#1a1a1a" stroke-width="1.0" fill="none"/>
<line x1="366.50" y1="293.40" x2="366.50" y2="296.70" stroke="#333" stroke-width="0.8" />
<line x1="365.40" y1="293.40" x2="367.60" y2="293.40" stroke="#555" stroke-width="0.5" />
<line x1="372.40" y1="293.40" x2="372.40" y2="302.50" stroke="#333" stroke-width="0.8" />
<line x1="371.30" y1="293.40" x2="373.50" y2="293.40" stroke="#555" stroke-width="0.5" />
<line x1="373.00" y1="297.10" x2="373.00" y2="302.70" stroke="#111" stroke-width="1.1" />
<line x1="375.00" y1="297.10" x2="375.00" y2="302.70" stroke="#222" stroke-width="1.0" />
<line x1="372.40" y1="299.60" x2="375.00" y2="299.60" stroke="#333" stroke-width="0.6" />
<polyline points="373.00,295.20 386.20,295.20 386.20,302.50" stroke="#444" stroke-width="0.6" fill="none"/>
<line x1="377.50" y1="297.10" x2="377.50" y2="302.50" stroke="#555" stroke-width="0.6" />
<line x1="384.40" y1="297.10" x2="384.40" y2="302.50" stroke="#555" stroke-width="0.6" />
<path d="M379.6,302.50 l1,-1.4 l1,1.4" stroke="#555" stroke-width="0.5" fill="#888"/>
<line x1="372.40" y1="302.50" x2="393.00" y2="302.50" stroke="#444" stroke-width="0.6" />
<path d="M386.5,302.50 q0.8,-1.2 1.6,0 q0.8,-1.2 1.6,0 q0.8,-1.2 1.6,0" stroke="#444" stroke-width="0.5" fill="none"/>
<circle cx="395.30" cy="302.10" r="2.40" stroke="#383838" stroke-width="0.95" fill="#e4e4e4"/>
<path d="M396.10,300.90 L394.60,302.70 L396.10,303.00" stroke="#777" stroke-width="0.45" fill="none"/>
<line x1="397.70" y1="302.10" x2="405.00" y2="302.10" stroke="#444" stroke-width="0.6" />
<line x1="405.00" y1="302.10" x2="408.60" y2="299.10" stroke="#444" stroke-width="0.6" />
<line x1="409.20" y1="302.10" x2="415.25" y2="302.10" stroke="#444" stroke-width="0.6" />
<text x="407.50" y="297.70" font-size="2.6" fill="#1a1a1a" stroke="#1a1a1a" stroke-width="0.05" text-anchor="middle" >QM</text>
<line x1="362.80" y1="309.05" x2="367.00" y2="309.05" stroke="#444" stroke-width="0.6" />
<polyline points="365.60,306.65 369.30,309.05 365.60,311.45" stroke="#1a1a1a" stroke-width="1.0" fill="none"/>
<line x1="366.50" y1="303.35" x2="366.50" y2="306.65" stroke="#333" stroke-width="0.8" />
<line x1="365.40" y1="303.35" x2="367.60" y2="303.35" stroke="#555" stroke-width="0.5" />
<line x1="372.40" y1="303.35" x2="372.40" y2="312.45" stroke="#333" stroke-width="0.8" />
<line x1="371.30" y1="303.35" x2="373.50" y2="303.35" stroke="#555" stroke-width="0.5" />
<line x1="373.00" y1="307.05" x2="373.00" y2="312.65" stroke="#111" stroke-width="1.1" />
<line x1="375.00" y1="307.05" x2="375.00" y2="312.65" stroke="#222" stroke-width="1.0" />
<line x1="372.40" y1="309.55" x2="375.00" y2="309.55" stroke="#333" stroke-width="0.6" />
<polyline points="373.00,305.15 386.20,305.15 386.20,312.45" stroke="#444" stroke-width="0.6" fill="none"/>
<line x1="377.50" y1="307.05" x2="377.50" y2="312.45" stroke="#555" stroke-width="0.6" />
<line x1="384.40" y1="307.05" x2="384.40" y2="312.45" stroke="#555" stroke-width="0.6" />
<path d="M379.6,312.45 l1,-1.4 l1,1.4" stroke="#555" stroke-width="0.5" fill="#888"/>
<line x1="372.40" y1="312.45" x2="393.00" y2="312.45" stroke="#444" stroke-width="0.6" />
<path d="M386.5,312.45 q0.8,-1.2 1.6,0 q0.8,-1.2 1.6,0 q0.8,-1.2 1.6,0" stroke="#444" stroke-width="0.5" fill="none"/>
<circle cx="395.30" cy="312.05" r="2.40" stroke="#383838" stroke-width="0.95" fill="#e4e4e4"/>
<path d="M396.10,310.85 L394.60,312.65 L396.10,312.95" stroke="#777" stroke-width="0.45" fill="none"/>
<line x1="397.70" y1="312.05" x2="405.00" y2="312.05" stroke="#444" stroke-width="0.6" />
<line x1="405.00" y1="312.05" x2="408.60" y2="309.05" stroke="#444" stroke-width="0.6" />
<line x1="409.20" y1="312.05" x2="415.25" y2="312.05" stroke="#444" stroke-width="0.6" />
<text x="407.50" y="307.65" font-size="2.6" fill="#1a1a1a" stroke="#1a1a1a" stroke-width="0.05" text-anchor="middle" >SA</text>
<line x1="362.80" y1="319.00" x2="367.00" y2="319.00" stroke="#444" stroke-width="0.6" />
<polyline points="365.60,316.60 369.30,319.00 365.60,321.40" stroke="#1a1a1a" stroke-width="1.0" fill="none"/>
<line x1="366.50" y1="313.30" x2="366.50" y2="316.60" stroke="#333" stroke-width="0.8" />
<line x1="365.40" y1="313.30" x2="367.60" y2="313.30" stroke="#555" stroke-width="0.5" />
<line x1="372.40" y1="313.30" x2="372.40" y2="322.40" stroke="#333" stroke-width="0.8" />
<line x1="371.30" y1="313.30" x2="373.50" y2="313.30" stroke="#555" stroke-width="0.5" />
<line x1="373.00" y1="317.00" x2="373.00" y2="322.60" stroke="#111" stroke-width="1.1" />
<line x1="375.00" y1="317.00" x2="375.00" y2="322.60" stroke="#222" stroke-width="1.0" />
<line x1="372.40" y1="319.50" x2="375.00" y2="319.50" stroke="#333" stroke-width="0.6" />
<polyline points="373.00,315.10 386.20,315.10 386.20,322.40" stroke="#444" stroke-width="0.6" fill="none"/>
<line x1="377.50" y1="317.00" x2="377.50" y2="322.40" stroke="#555" stroke-width="0.6" />
<line x1="384.40" y1="317.00" x2="384.40" y2="322.40" stroke="#555" stroke-width="0.6" />
<path d="M379.6,322.40 l1,-1.4 l1,1.4" stroke="#555" stroke-width="0.5" fill="#888"/>
<line x1="372.40" y1="322.40" x2="393.00" y2="322.40" stroke="#444" stroke-width="0.6" />
<path d="M386.5,322.40 q0.8,-1.2 1.6,0 q0.8,-1.2 1.6,0 q0.8,-1.2 1.6,0" stroke="#444" stroke-width="0.5" fill="none"/>
<circle cx="395.30" cy="322.00" r="2.40" stroke="#383838" stroke-width="0.95" fill="#e4e4e4"/>
<path d="M396.10,320.80 L394.60,322.60 L396.10,322.90" stroke="#777" stroke-width="0.45" fill="none"/>
<line x1="397.70" y1="322.00" x2="405.00" y2="322.00" stroke="#444" stroke-width="0.6" />
<line x1="405.00" y1="322.00" x2="408.60" y2="319.00" stroke="#444" stroke-width="0.6" />
<line x1="409.20" y1="322.00" x2="415.25" y2="322.00" stroke="#444" stroke-width="0.6" />
<text x="407.50" y="317.60" font-size="2.6" fill="#1a1a1a" stroke="#1a1a1a" stroke-width="0.05" text-anchor="middle" >SA</text>
<line x1="362.80" y1="328.95" x2="367.00" y2="328.95" stroke="#444" stroke-width="0.6" />
<polyline points="365.60,326.55 369.30,328.95 365.60,331.35" stroke="#1a1a1a" stroke-width="1.0" fill="none"/>
<line x1="366.50" y1="323.25" x2="366.50" y2="326.55" stroke="#333" stroke-width="0.8" />
<line x1="365.40" y1="323.25" x2="367.60" y2="323.25" stroke="#555" stroke-width="0.5" />
<line x1="372.40" y1="323.25" x2="372.40" y2="332.35" stroke="#333" stroke-width="0.8" />
<line x1="371.30" y1="323.25" x2="373.50" y2="323.25" stroke="#555" stroke-width="0.5" />
<line x1="373.00" y1="326.95" x2="373.00" y2="332.55" stroke="#111" stroke-width="1.1" />
<line x1="375.00" y1="326.95" x2="375.00" y2="332.55" stroke="#222" stroke-width="1.0" />
<line x1="372.40" y1="329.45" x2="375.00" y2="329.45" stroke="#333" stroke-width="0.6" />
<polyline points="373.00,325.05 386.20,325.05 386.20,332.35" stroke="#444" stroke-width="0.6" fill="none"/>
<line x1="377.50" y1="326.95" x2="377.50" y2="332.35" stroke="#555" stroke-width="0.6" />
<line x1="384.40" y1="326.95" x2="384.40" y2="332.35" stroke="#555" stroke-width="0.6" />
<path d="M379.6,332.35 l1,-1.4 l1,1.4" stroke="#555" stroke-width="0.5" fill="#888"/>
<line x1="372.40" y1="332.35" x2="393.00" y2="332.35" stroke="#444" stroke-width="0.6" />
<path d="M386.5,332.35 q0.8,-1.2 1.6,0 q0.8,-1.2 1.6,0 q0.8,-1.2 1.6,0" stroke="#444" stroke-width="0.5" fill="none"/>
<circle cx="395.30" cy="331.95" r="2.40" stroke="#383838" stroke-width="0.95" fill="#e4e4e4"/>
<path d="M396.10,330.75 L394.60,332.55 L396.10,332.85" stroke="#777" stroke-width="0.45" fill="none"/>
<line x1="397.70" y1="331.95" x2="405.00" y2="331.95" stroke="#444" stroke-width="0.6" />
<line x1="405.00" y1="331.95" x2="408.60" y2="328.95" stroke="#444" stroke-width="0.6" />
<line x1="409.20" y1="331.95" x2="415.25" y2="331.95" stroke="#444" stroke-width="0.6" />
<line x1="362.80" y1="338.90" x2="367.00" y2="338.90" stroke="#444" stroke-width="0.6" />
<polyline points="365.60,336.50 369.30,338.90 365.60,341.30" stroke="#1a1a1a" stroke-width="1.0" fill="none"/>
<line x1="366.50" y1="333.20" x2="366.50" y2="336.50" stroke="#333" stroke-width="0.8" />
<line x1="365.40" y1="333.20" x2="367.60" y2="333.20" stroke="#555" stroke-width="0.5" />
<line x1="372.40" y1="333.20" x2="372.40" y2="342.30" stroke="#333" stroke-width="0.8" />
<line x1="371.30" y1="333.20" x2="373.50" y2="333.20" stroke="#555" stroke-width="0.5" />
<line x1="373.00" y1="336.90" x2="373.00" y2="342.50" stroke="#111" stroke-width="1.1" />
<line x1="375.00" y1="336.90" x2="375.00" y2="342.50" stroke="#222" stroke-width="1.0" />
<line x1="372.40" y1="339.40" x2="375.00" y2="339.40" stroke="#333" stroke-width="0.6" />
<polyline points="373.00,335.00 386.20,335.00 386.20,342.30" stroke="#444" stroke-width="0.6" fill="none"/>
<line x1="377.50" y1="336.90" x2="377.50" y2="342.30" stroke="#555" stroke-width="0.6" />
<line x1="384.40" y1="336.90" x2="384.40" y2="342.30" stroke="#555" stroke-width="0.6" />
<path d="M379.6,342.30 l1,-1.4 l1,1.4" stroke="#555" stroke-width="0.5" fill="#888"/>
<line x1="372.40" y1="342.30" x2="393.00" y2="342.30" stroke="#444" stroke-width="0.6" />
<path d="M386.5,342.30 q0.8,-1.2 1.6,0 q0.8,-1.2 1.6,0 q0.8,-1.2 1.6,0" stroke="#444" stroke-width="0.5" fill="none"/>
<circle cx="395.30" cy="341.90" r="2.40" stroke="#383838" stroke-width="0.95" fill="#e4e4e4"/>
<path d="M396.10,340.70 L394.60,342.50 L396.10,342.80" stroke="#777" stroke-width="0.45" fill="none"/>
<line x1="397.70" y1="341.90" x2="405.00" y2="341.90" stroke="#444" stroke-width="0.6" />
<line x1="405.00" y1="341.90" x2="408.60" y2="338.90" stroke="#444" stroke-width="0.6" />
<line x1="409.20" y1="341.90" x2="415.25" y2="341.90" stroke="#444" stroke-width="0.6" />
<line x1="362.80" y1="348.85" x2="367.00" y2="348.85" stroke="#444" stroke-width="0.6" />
<polyline points="365.60,346.45 369.30,348.85 365.60,351.25" stroke="#1a1a1a" stroke-width="1.0" fill="none"/>
<line x1="366.50" y1="343.15" x2="366.50" y2="346.45" stroke="#333" stroke-width="0.8" />
<line x1="365.40" y1="343.15" x2="367.60" y2="343.15" stroke="#555" stroke-width="0.5" />
<line x1="372.40" y1="343.15" x2="372.40" y2="352.25" stroke="#333" stroke-width="0.8" />
<line x1="371.30" y1="343.15" x2="373.50" y2="343.15" stroke="#555" stroke-width="0.5" />
<line x1="373.00" y1="346.85" x2="373.00" y2="352.45" stroke="#111" stroke-width="1.1" />
<line x1="375.00" y1="346.85" x2="375.00" y2="352.45" stroke="#222" stroke-width="1.0" />
<line x1="372.40" y1="349.35" x2="375.00" y2="349.35" stroke="#333" stroke-width="0.6" />
<polyline points="373.00,344.95 386.20,344.95 386.20,352.25" stroke="#444" stroke-width="0.6" fill="none"/>
<line x1="377.50" y1="346.85" x2="377.50" y2="352.25" stroke="#555" stroke-width="0.6" />
<line x1="384.40" y1="346.85" x2="384.40" y2="352.25" stroke="#555" stroke-width="0.6" />
<path d="M379.6,352.25 l1,-1.4 l1,1.4" stroke="#555" stroke-width="0.5" fill="#888"/>
<line x1="372.40" y1="352.25" x2="393.00" y2="352.25" stroke="#444" stroke-width="0.6" />
<path d="M386.5,352.25 q0.8,-1.2 1.6,0 q0.8,-1.2 1.6,0 q0.8,-1.2 1.6,0" stroke="#444" stroke-width="0.5" fill="none"/>
<circle cx="395.30" cy="351.85" r="2.40" stroke="#383838" stroke-width="0.95" fill="#e4e4e4"/>
<path d="M396.10,350.65 L394.60,352.45 L396.10,352.75" stroke="#777" stroke-width="0.45" fill="none"/>
<line x1="397.70" y1="351.85" x2="405.00" y2="351.85" stroke="#444" stroke-width="0.6" />
<line x1="405.00" y1="351.85" x2="408.60" y2="348.85" stroke="#444" stroke-width="0.6" />
<line x1="409.20" y1="351.85" x2="415.25" y2="351.85" stroke="#444" stroke-width="0.6" />
<line x1="362.80" y1="358.80" x2="367.00" y2="358.80" stroke="#444" stroke-width="0.6" />
<polyline points="365.60,356.40 369.30,358.80 365.60,361.20" stroke="#1a1a1a" stroke-width="1.0" fill="none"/>
<line x1="366.50" y1="353.10" x2="366.50" y2="356.40" stroke="#333" stroke-width="0.8" />
<line x1="365.40" y1="353.10" x2="367.60" y2="353.10" stroke="#555" stroke-width="0.5" />
<line x1="372.40" y1="353.10" x2="372.40" y2="362.20" stroke="#333" stroke-width="0.8" />
<line x1="371.30" y1="353.10" x2="373.50" y2="353.10" stroke="#555" stroke-width="0.5" />
<line x1="373.00" y1="356.80" x2="373.00" y2="362.40" stroke="#111" stroke-width="1.1" />
<line x1="375.00" y1="356.80" x2="375.00" y2="362.40" stroke="#222" stroke-width="1.0" />
<line x1="372.40" y1="359.30" x2="375.00" y2="359.30" stroke="#333" stroke-width="0.6" />
<polyline points="373.00,354.90 386.20,354.90 386.20,362.20" stroke="#444" stroke-width="0.6" fill="none"/>
<line x1="377.50" y1="356.80" x2="377.50" y2="362.20" stroke="#555" stroke-width="0.6" />
<line x1="384.40" y1="356.80" x2="384.40" y2="362.20" stroke="#555" stroke-width="0.6" />
<path d="M379.6,362.20 l1,-1.4 l1,1.4" stroke="#555" stroke-width="0.5" fill="#888"/>
<line x1="372.40" y1="362.20" x2="393.00" y2="362.20" stroke="#444" stroke-width="0.6" />
<path d="M386.5,362.20 q0.8,-1.2 1.6,0 q0.8,-1.2 1.6,0 q0.8,-1.2 1.6,0" stroke="#444" stroke-width="0.5" fill="none"/>
<circle cx="395.30" cy="361.80" r="2.40" stroke="#383838" stroke-width="0.95" fill="#e4e4e4"/>
<path d="M396.10,360.60 L394.60,362.40 L396.10,362.70" stroke="#777" stroke-width="0.45" fill="none"/>
<line x1="397.70" y1="361.80" x2="418.20" y2="361.80" stroke="#444" stroke-width="0.7" />
<line x1="415.25" y1="222.50" x2="415.25" y2="361.80" stroke="#444" stroke-width="0.6" />
<text x="294.30" y="276.60" font-size="4.2" fill="#1a1a1a" stroke="#1a1a1a" stroke-width="0.12" text-anchor="start" textLength="32.5" lengthAdjust="spacingAndGlyphs">【PT 并列原理图】</text>
<text x="260.50" y="282.30" font-size="2.6" fill="#1a1a1a" stroke="#1a1a1a" stroke-width="0.06" text-anchor="middle" >24V+</text>
<text x="355.30" y="282.30" font-size="2.6" fill="#1a1a1a" stroke="#1a1a1a" stroke-width="0.06" text-anchor="middle" >24V-</text>
<line x1="258.50" y1="284.50" x2="263.00" y2="284.50" stroke="#222" stroke-width="1.3" />
<line x1="353.00" y1="284.50" x2="357.50" y2="284.50" stroke="#222" stroke-width="1.3" />
<line x1="261.00" y1="284.50" x2="261.00" y2="346.70" stroke="#5a5a5a" stroke-width="0.6" />
<line x1="355.50" y1="284.50" x2="355.50" y2="342.50" stroke="#5a5a5a" stroke-width="0.6" />
<line x1="261.00" y1="292.30" x2="272.00" y2="292.30" stroke="#5a5a5a" stroke-width="0.6" />
<line x1="277.00" y1="292.30" x2="300.00" y2="292.30" stroke="#5a5a5a" stroke-width="0.6" />
<line x1="305.00" y1="292.30" x2="311.00" y2="292.30" stroke="#5a5a5a" stroke-width="0.6" />
<line x1="316.00" y1="292.30" x2="320.00" y2="292.30" stroke="#5a5a5a" stroke-width="0.6" />
<line x1="325.00" y1="292.30" x2="342.70" y2="292.30" stroke="#5a5a5a" stroke-width="0.6" />
<line x1="348.40" y1="292.30" x2="355.50" y2="292.30" stroke="#5a5a5a" stroke-width="0.6" />
<line x1="272.00" y1="292.30" x2="277.00" y2="294.90" stroke="#444" stroke-width="0.6" />
<text x="274.00" y="292.00" font-size="2.7" fill="#1a1a1a" stroke="#1a1a1a" stroke-width="0.06" text-anchor="middle" >IN04</text>
<line x1="300.00" y1="292.30" x2="305.00" y2="294.90" stroke="#444" stroke-width="0.6" />
<text x="302.00" y="292.00" font-size="2.7" fill="#1a1a1a" stroke="#1a1a1a" stroke-width="0.06" text-anchor="middle" >IN07</text>
<line x1="311.00" y1="292.30" x2="316.00" y2="294.90" stroke="#444" stroke-width="0.6" />
<text x="313.00" y="292.00" font-size="2.7" fill="#1a1a1a" stroke="#1a1a1a" stroke-width="0.06" text-anchor="middle" >IN08</text>
<line x1="320.00" y1="292.30" x2="325.00" y2="294.90" stroke="#444" stroke-width="0.6" />
<text x="322.00" y="292.00" font-size="2.7" fill="#1a1a1a" stroke="#1a1a1a" stroke-width="0.06" text-anchor="middle" >IN09</text>
<rect x="342.70" y="288.00" width="5.70" height="8.60" stroke="#666" stroke-width="0.6" fill="none"/>
<text x="345.50" y="293.30" font-size="2.5" fill="#1a1a1a" stroke="#1a1a1a" stroke-width="0.04" text-anchor="middle" >KS</text>
<circle cx="261.00" cy="292.30" r="0.70" fill="#222"/>
<circle cx="355.50" cy="292.30" r="0.70" fill="#222"/>
<line x1="261.00" y1="304.00" x2="289.00" y2="304.00" stroke="#5a5a5a" stroke-width="0.6" />
<line x1="289.00" y1="304.00" x2="294.00" y2="306.60" stroke="#444" stroke-width="0.6" />
<text x="291.00" y="303.70" font-size="2.7" fill="#1a1a1a" stroke="#1a1a1a" stroke-width="0.06" text-anchor="middle" >IN01</text>
<line x1="294.00" y1="304.00" x2="300.60" y2="304.00" stroke="#5a5a5a" stroke-width="0.6" />
<line x1="300.60" y1="304.00" x2="319.40" y2="304.00" stroke="#5a5a5a" stroke-width="0.6" />
<text x="310.00" y="302.80" font-size="2.8" fill="#1a1a1a" stroke="#1a1a1a" stroke-width="0.06" text-anchor="middle" >KP测线</text>
<line x1="300.60" y1="304.00" x2="300.60" y2="315.60" stroke="#5a5a5a" stroke-width="0.6" />
<line x1="319.40" y1="304.00" x2="319.40" y2="315.60" stroke="#5a5a5a" stroke-width="0.6" />
<line x1="300.60" y1="310.40" x2="307.50" y2="310.40" stroke="#5a5a5a" stroke-width="0.6" />
<line x1="307.50" y1="309.10" x2="311.50" y2="311.70" stroke="#444" stroke-width="0.6" />
<line x1="312.00" y1="310.40" x2="319.40" y2="310.40" stroke="#5a5a5a" stroke-width="0.6" />
<text x="309.80" y="309.00" font-size="2.6" fill="#1a1a1a" stroke="#1a1a1a" stroke-width="0.06" text-anchor="middle" >IN06</text>
<circle cx="300.60" cy="310.40" r="0.60" fill="#222"/>
<circle cx="319.40" cy="310.40" r="0.60" fill="#222"/>
<line x1="300.60" y1="315.60" x2="307.50" y2="315.60" stroke="#5a5a5a" stroke-width="0.6" />
<line x1="307.50" y1="314.30" x2="311.50" y2="316.90" stroke="#444" stroke-width="0.6" />
<line x1="312.00" y1="315.60" x2="319.40" y2="315.60" stroke="#5a5a5a" stroke-width="0.6" />
<text x="309.80" y="314.20" font-size="2.6" fill="#1a1a1a" stroke="#1a1a1a" stroke-width="0.06" text-anchor="middle" >IN08</text>
<circle cx="300.60" cy="315.60" r="0.60" fill="#222"/>
<circle cx="319.40" cy="315.60" r="0.60" fill="#222"/>
<circle cx="300.60" cy="304.00" r="0.60" fill="#222"/>
<circle cx="319.40" cy="304.00" r="0.60" fill="#222"/>
<line x1="319.40" y1="304.00" x2="326.00" y2="304.00" stroke="#5a5a5a" stroke-width="0.6" />
<rect x="326.20" y="300.00" width="5.70" height="8.10" stroke="#666" stroke-width="0.6" fill="none"/>
<text x="329.00" y="304.90" font-size="2.5" fill="#1a1a1a" stroke="#1a1a1a" stroke-width="0.04" text-anchor="middle" >K1</text>
<line x1="332.00" y1="304.00" x2="355.50" y2="304.00" stroke="#5a5a5a" stroke-width="0.6" />
<circle cx="261.00" cy="304.00" r="0.70" fill="#222"/>
<circle cx="355.50" cy="304.00" r="0.70" fill="#222"/>
<line x1="261.00" y1="322.30" x2="289.00" y2="322.30" stroke="#5a5a5a" stroke-width="0.6" />
<line x1="289.00" y1="322.30" x2="294.00" y2="324.90" stroke="#444" stroke-width="0.6" />
<text x="291.00" y="322.00" font-size="2.7" fill="#1a1a1a" stroke="#1a1a1a" stroke-width="0.06" text-anchor="middle" >IN02</text>
<line x1="294.00" y1="322.30" x2="300.60" y2="322.30" stroke="#5a5a5a" stroke-width="0.6" />
<line x1="300.60" y1="322.30" x2="319.40" y2="322.30" stroke="#5a5a5a" stroke-width="0.6" />
<text x="310.00" y="321.10" font-size="2.8" fill="#1a1a1a" stroke="#1a1a1a" stroke-width="0.06" text-anchor="middle" >KP测线</text>
<line x1="300.60" y1="322.30" x2="300.60" y2="333.90" stroke="#5a5a5a" stroke-width="0.6" />
<line x1="319.40" y1="322.30" x2="319.40" y2="333.90" stroke="#5a5a5a" stroke-width="0.6" />
<line x1="300.60" y1="328.70" x2="307.50" y2="328.70" stroke="#5a5a5a" stroke-width="0.6" />
<line x1="307.50" y1="327.40" x2="311.50" y2="330.00" stroke="#444" stroke-width="0.6" />
<line x1="312.00" y1="328.70" x2="319.40" y2="328.70" stroke="#5a5a5a" stroke-width="0.6" />
<text x="309.80" y="327.30" font-size="2.6" fill="#1a1a1a" stroke="#1a1a1a" stroke-width="0.06" text-anchor="middle" >IN05</text>
<circle cx="300.60" cy="328.70" r="0.60" fill="#222"/>
<circle cx="319.40" cy="328.70" r="0.60" fill="#222"/>
<line x1="300.60" y1="333.90" x2="307.50" y2="333.90" stroke="#5a5a5a" stroke-width="0.6" />
<line x1="307.50" y1="332.60" x2="311.50" y2="335.20" stroke="#444" stroke-width="0.6" />
<line x1="312.00" y1="333.90" x2="319.40" y2="333.90" stroke="#5a5a5a" stroke-width="0.6" />
<text x="309.80" y="332.50" font-size="2.6" fill="#1a1a1a" stroke="#1a1a1a" stroke-width="0.06" text-anchor="middle" >IN09</text>
<circle cx="300.60" cy="333.90" r="0.60" fill="#222"/>
<circle cx="319.40" cy="333.90" r="0.60" fill="#222"/>
<circle cx="300.60" cy="322.30" r="0.60" fill="#222"/>
<circle cx="319.40" cy="322.30" r="0.60" fill="#222"/>
<line x1="319.40" y1="322.30" x2="326.00" y2="322.30" stroke="#5a5a5a" stroke-width="0.6" />
<rect x="326.20" y="318.30" width="5.70" height="8.10" stroke="#666" stroke-width="0.6" fill="none"/>
<text x="329.00" y="323.20" font-size="2.5" fill="#1a1a1a" stroke="#1a1a1a" stroke-width="0.04" text-anchor="middle" >K2</text>
<line x1="332.00" y1="322.30" x2="355.50" y2="322.30" stroke="#5a5a5a" stroke-width="0.6" />
<circle cx="261.00" cy="322.30" r="0.70" fill="#222"/>
<circle cx="355.50" cy="322.30" r="0.70" fill="#222"/>
<line x1="261.00" y1="346.70" x2="267.00" y2="346.70" stroke="#5a5a5a" stroke-width="0.6" />
<polyline points="267.00,346.70 267.00,341.80 271.00,341.80" stroke="#5a5a5a" stroke-width="0.6" fill="none"/>
<line x1="271.00" y1="341.80" x2="275.00" y2="344.40" stroke="#444" stroke-width="0.6" />
<text x="272.50" y="341.50" font-size="2.7" fill="#1a1a1a" stroke="#1a1a1a" stroke-width="0.06" text-anchor="middle" >K1</text>
<line x1="275.00" y1="341.80" x2="284.00" y2="341.80" stroke="#5a5a5a" stroke-width="0.6" />
<line x1="280.00" y1="341.80" x2="284.00" y2="344.40" stroke="#444" stroke-width="0.6" />
<text x="281.50" y="341.50" font-size="2.7" fill="#1a1a1a" stroke="#1a1a1a" stroke-width="0.06" text-anchor="middle" >K2</text>
<polyline points="284.00,341.80 288.60,341.80 288.60,351.20 284.00,351.20" stroke="#5a5a5a" stroke-width="0.6" fill="none"/>
<polyline points="267.00,346.70 267.00,351.20 271.00,351.20" stroke="#5a5a5a" stroke-width="0.6" fill="none"/>
<line x1="271.00" y1="351.20" x2="275.00" y2="353.80" stroke="#444" stroke-width="0.6" />
<text x="272.50" y="350.90" font-size="2.7" fill="#1a1a1a" stroke="#1a1a1a" stroke-width="0.06" text-anchor="middle" >K2</text>
<line x1="275.00" y1="351.20" x2="284.00" y2="351.20" stroke="#5a5a5a" stroke-width="0.6" />
<line x1="280.00" y1="351.20" x2="284.00" y2="353.80" stroke="#444" stroke-width="0.6" />
<text x="281.50" y="350.90" font-size="2.7" fill="#1a1a1a" stroke="#1a1a1a" stroke-width="0.06" text-anchor="middle" >K1</text>
<circle cx="267.00" cy="346.70" r="0.70" fill="#222"/>
<circle cx="288.60" cy="346.70" r="0.70" fill="#222"/>
<line x1="288.60" y1="346.70" x2="293.00" y2="346.70" stroke="#5a5a5a" stroke-width="0.6" />
<line x1="293.00" y1="346.70" x2="299.00" y2="349.30" stroke="#444" stroke-width="0.6" />
<text x="295.50" y="346.40" font-size="2.7" fill="#1a1a1a" stroke="#1a1a1a" stroke-width="0.06" text-anchor="middle" >KS</text>
<line x1="299.00" y1="346.70" x2="306.70" y2="346.70" stroke="#5a5a5a" stroke-width="0.6" />
<polyline points="306.70,346.70 306.70,342.10 313.00,342.10" stroke="#5a5a5a" stroke-width="0.6" fill="none"/>
<line x1="313.00" y1="342.10" x2="317.00" y2="344.70" stroke="#444" stroke-width="0.6" />
<text x="314.50" y="341.80" font-size="2.7" fill="#1a1a1a" stroke="#1a1a1a" stroke-width="0.06" text-anchor="middle" >IN03</text>
<line x1="317.00" y1="342.10" x2="338.10" y2="342.10" stroke="#5a5a5a" stroke-width="0.6" />
<rect x="338.10" y="338.10" width="5.60" height="7.90" stroke="#666" stroke-width="0.6" fill="none"/>
<text x="340.90" y="343.00" font-size="2.4" fill="#1a1a1a" stroke="#1a1a1a" stroke-width="0.04" text-anchor="middle" >KM</text>
<line x1="343.70" y1="342.10" x2="355.50" y2="342.10" stroke="#5a5a5a" stroke-width="0.6" />
<circle cx="355.50" cy="342.10" r="0.70" fill="#222"/>
<polyline points="306.70,346.70 306.70,351.90 313.00,351.90" stroke="#5a5a5a" stroke-width="0.6" fill="none"/>
<line x1="313.00" y1="351.90" x2="317.00" y2="354.50" stroke="#444" stroke-width="0.6" />
<text x="314.50" y="351.60" font-size="2.7" fill="#1a1a1a" stroke="#1a1a1a" stroke-width="0.06" text-anchor="middle" >IN02</text>
<line x1="317.00" y1="351.90" x2="338.10" y2="351.90" stroke="#5a5a5a" stroke-width="0.6" />
<polyline points="322.00,351.90 322.00,358.30 328.00,358.30" stroke="#5a5a5a" stroke-width="0.6" fill="none"/>
<line x1="328.00" y1="358.30" x2="332.00" y2="360.90" stroke="#444" stroke-width="0.6" />
<text x="329.50" y="358.00" font-size="2.7" fill="#1a1a1a" stroke="#1a1a1a" stroke-width="0.06" text-anchor="middle" >SW</text>
<polyline points="332.00,358.30 336.00,358.30 336.00,351.90" stroke="#5a5a5a" stroke-width="0.6" fill="none"/>
<text x="328.00" y="350.50" font-size="2.3" fill="#1a1a1a" stroke="#1a1a1a" stroke-width="0.12" text-anchor="middle" >手动</text>
<circle cx="322.00" cy="351.90" r="0.60" fill="#222"/>
<circle cx="336.00" cy="351.90" r="0.60" fill="#222"/>
<rect x="338.10" y="348.00" width="5.60" height="8.50" stroke="#666" stroke-width="0.6" fill="none"/>
<text x="340.90" y="353.00" font-size="2.0" fill="#1a1a1a" stroke="#1a1a1a" stroke-width="0.03" text-anchor="middle" >KMN</text>
<line x1="343.70" y1="351.90" x2="350.00" y2="351.90" stroke="#5a5a5a" stroke-width="0.6" />
<line x1="350.00" y1="349.50" x2="354.00" y2="352.10" stroke="#444" stroke-width="0.6" />
<text x="351.50" y="349.20" font-size="2.7" fill="#1a1a1a" stroke="#1a1a1a" stroke-width="0.06" text-anchor="middle" >手动</text>
<polyline points="354.00,351.90 355.50,351.90 355.50,347.00" stroke="#5a5a5a" stroke-width="0.6" fill="none"/>
<text x="191.50" y="387.40" font-size="5.0" fill="#1a1a1a" stroke="#1a1a1a" stroke-width="0.2" text-anchor="start" textLength="201.5" lengthAdjust="spacingAndGlyphs">注：1~2#PT控制动能分别控制K1K2，PT切换并列功能控制KM具体动作逻辑参考PT并列原理图</text>
</svg></body></html>
